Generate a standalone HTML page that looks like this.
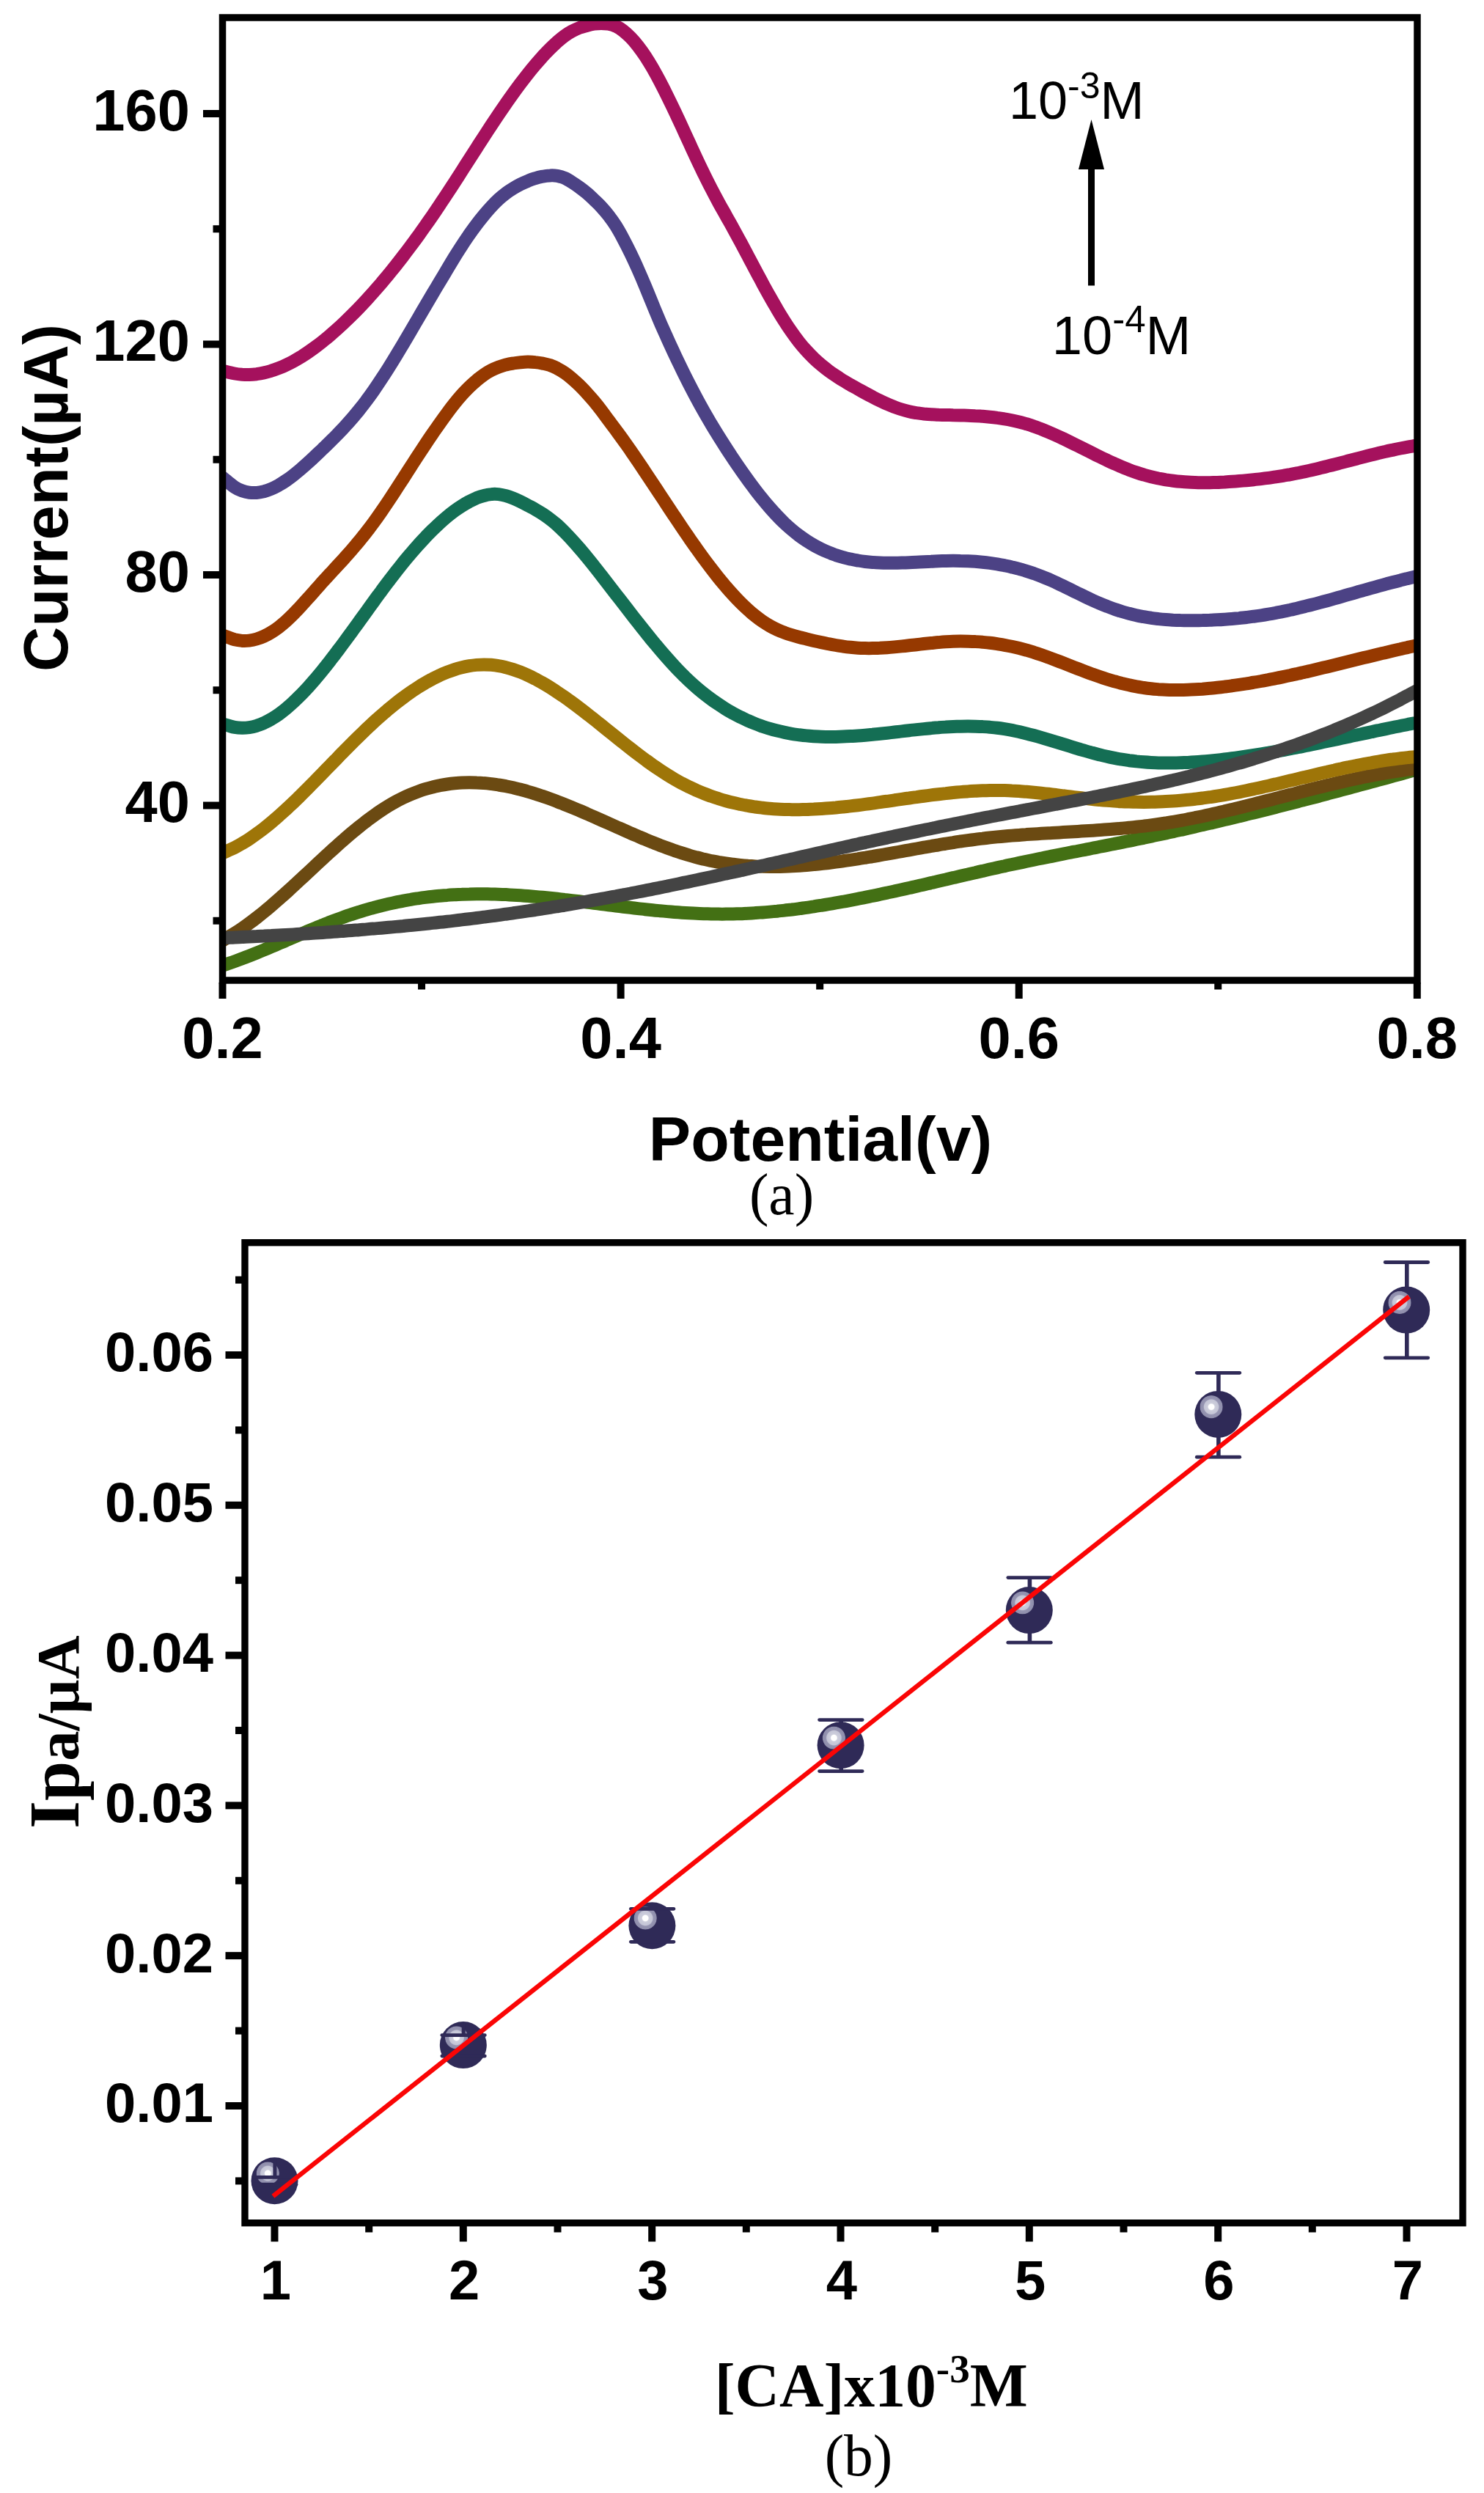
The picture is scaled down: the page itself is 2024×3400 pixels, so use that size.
<!DOCTYPE html>
<html><head><meta charset="utf-8"><title>Figure</title>
<style>
html,body{margin:0;padding:0;background:#fff;}
svg{display:block;}
.ab{font-family:"Liberation Sans",sans-serif;font-weight:bold;fill:#000;}
.ar{font-family:"Liberation Sans",sans-serif;fill:#000;}
.tb{font-family:"Liberation Serif",serif;font-weight:bold;fill:#000;}
.tr{font-family:"Liberation Serif",serif;fill:#000;}
</style></head><body>
<svg width="2024" height="3400" viewBox="0 0 2024 3400">
<rect width="2024" height="3400" fill="#fff"/>
<defs>
<clipPath id="ca"><rect x="303.5" y="24" width="1629.5" height="1313"/></clipPath>
<radialGradient id="hl" cx="0.5" cy="0.5" r="0.5">
<stop offset="0" stop-color="#ffffff"/><stop offset="0.24" stop-color="#ffffff"/>
<stop offset="0.32" stop-color="#cdcedc"/><stop offset="0.62" stop-color="#c4c5d6"/>
<stop offset="0.69" stop-color="#9695b2"/><stop offset="0.96" stop-color="#8f8eac"/><stop offset="1" stop-color="#5a577e"/>
</radialGradient>
</defs>

<g clip-path="url(#ca)" fill="none" stroke-width="18" stroke-linejoin="round">
<path d="M296.0 1319.4 C298.3 1318.6 306.0 1315.9 310.0 1314.6 C314.0 1313.2 316.7 1312.3 320.0 1311.1 C323.3 1309.9 326.7 1308.7 330.0 1307.4 C333.3 1306.1 336.7 1304.9 340.0 1303.6 C343.3 1302.3 346.7 1300.9 350.0 1299.6 C353.3 1298.2 356.7 1296.8 360.0 1295.5 C363.3 1294.1 366.7 1292.7 370.0 1291.3 C373.3 1289.9 376.7 1288.4 380.0 1287.0 C383.3 1285.6 386.7 1284.2 390.0 1282.7 C393.3 1281.3 396.7 1279.9 400.0 1278.4 C403.3 1277.0 406.7 1275.6 410.0 1274.1 C413.3 1272.7 416.7 1271.3 420.0 1269.9 C423.3 1268.5 426.7 1267.1 430.0 1265.7 C433.3 1264.3 436.7 1263.0 440.0 1261.7 C443.3 1260.3 446.7 1259.0 450.0 1257.7 C453.3 1256.4 456.7 1255.1 460.0 1253.9 C463.3 1252.7 466.7 1251.5 470.0 1250.3 C473.3 1249.1 476.7 1248.0 480.0 1246.9 C483.3 1245.8 486.7 1244.7 490.0 1243.7 C493.3 1242.6 496.7 1241.6 500.0 1240.6 C503.3 1239.7 506.7 1238.7 510.0 1237.8 C513.3 1236.9 516.7 1236.1 520.0 1235.2 C523.3 1234.4 526.7 1233.6 530.0 1232.8 C533.3 1232.1 536.7 1231.3 540.0 1230.6 C543.3 1229.9 546.7 1229.3 550.0 1228.6 C553.3 1228.0 556.7 1227.4 560.0 1226.9 C563.3 1226.3 566.7 1225.8 570.0 1225.3 C573.3 1224.8 576.7 1224.3 580.0 1223.9 C583.3 1223.5 586.7 1223.1 590.0 1222.7 C593.3 1222.3 596.7 1222.0 600.0 1221.7 C603.3 1221.4 606.7 1221.1 610.0 1220.9 C613.3 1220.6 616.7 1220.4 620.0 1220.2 C623.3 1220.1 626.7 1219.9 630.0 1219.8 C633.3 1219.6 636.7 1219.5 640.0 1219.5 C643.3 1219.4 646.7 1219.3 650.0 1219.3 C653.3 1219.3 656.7 1219.3 660.0 1219.3 C663.3 1219.3 666.7 1219.4 670.0 1219.4 C673.3 1219.5 676.7 1219.6 680.0 1219.7 C683.3 1219.8 686.7 1220.0 690.0 1220.1 C693.3 1220.3 696.7 1220.5 700.0 1220.7 C703.3 1220.9 706.7 1221.1 710.0 1221.3 C713.3 1221.5 716.7 1221.8 720.0 1222.0 C723.3 1222.3 726.7 1222.6 730.0 1222.9 C733.3 1223.2 736.7 1223.5 740.0 1223.8 C743.3 1224.1 746.7 1224.5 750.0 1224.8 C753.3 1225.1 756.7 1225.5 760.0 1225.8 C763.3 1226.2 766.7 1226.6 770.0 1227.0 C773.3 1227.3 776.7 1227.7 780.0 1228.1 C783.3 1228.5 786.7 1228.9 790.0 1229.3 C793.3 1229.7 796.7 1230.1 800.0 1230.5 C803.3 1230.9 806.7 1231.4 810.0 1231.8 C813.3 1232.2 816.7 1232.6 820.0 1233.0 C823.3 1233.4 826.7 1233.9 830.0 1234.3 C833.3 1234.7 836.7 1235.1 840.0 1235.5 C843.3 1235.9 846.7 1236.3 850.0 1236.7 C853.3 1237.1 856.7 1237.5 860.0 1237.9 C863.3 1238.3 866.7 1238.7 870.0 1239.1 C873.3 1239.5 876.7 1239.8 880.0 1240.2 C883.3 1240.5 886.7 1240.9 890.0 1241.2 C893.3 1241.6 896.7 1241.9 900.0 1242.2 C903.3 1242.5 906.7 1242.8 910.0 1243.1 C913.3 1243.4 916.7 1243.7 920.0 1244.0 C923.3 1244.2 926.7 1244.5 930.0 1244.7 C933.3 1244.9 936.7 1245.1 940.0 1245.3 C943.3 1245.5 946.7 1245.7 950.0 1245.8 C953.3 1246.0 956.7 1246.1 960.0 1246.2 C963.3 1246.3 966.7 1246.4 970.0 1246.5 C973.3 1246.6 976.7 1246.6 980.0 1246.6 C983.3 1246.7 986.7 1246.7 990.0 1246.6 C993.3 1246.6 996.7 1246.5 1000.0 1246.5 C1003.3 1246.4 1006.7 1246.3 1010.0 1246.2 C1013.3 1246.0 1016.7 1245.9 1020.0 1245.7 C1023.3 1245.6 1026.7 1245.4 1030.0 1245.1 C1033.3 1244.9 1036.7 1244.7 1040.0 1244.4 C1043.3 1244.2 1046.7 1243.9 1050.0 1243.6 C1053.3 1243.3 1056.7 1243.0 1060.0 1242.7 C1063.3 1242.3 1066.7 1242.0 1070.0 1241.6 C1073.3 1241.2 1076.7 1240.9 1080.0 1240.5 C1083.3 1240.0 1086.7 1239.6 1090.0 1239.2 C1093.3 1238.7 1096.7 1238.3 1100.0 1237.8 C1103.3 1237.3 1106.7 1236.9 1110.0 1236.4 C1113.3 1235.8 1116.7 1235.3 1120.0 1234.8 C1123.3 1234.3 1126.7 1233.7 1130.0 1233.2 C1133.3 1232.6 1136.7 1232.0 1140.0 1231.4 C1143.3 1230.9 1146.7 1230.3 1150.0 1229.7 C1153.3 1229.0 1156.7 1228.4 1160.0 1227.8 C1163.3 1227.2 1166.7 1226.5 1170.0 1225.9 C1173.3 1225.2 1176.7 1224.6 1180.0 1223.9 C1183.3 1223.2 1186.7 1222.5 1190.0 1221.8 C1193.3 1221.2 1196.7 1220.5 1200.0 1219.7 C1203.3 1219.0 1206.7 1218.3 1210.0 1217.6 C1213.3 1216.9 1216.7 1216.2 1220.0 1215.4 C1223.3 1214.7 1226.7 1214.0 1230.0 1213.2 C1233.3 1212.5 1236.7 1211.7 1240.0 1211.0 C1243.3 1210.2 1246.7 1209.5 1250.0 1208.7 C1253.3 1207.9 1256.7 1207.2 1260.0 1206.4 C1263.3 1205.6 1266.7 1204.9 1270.0 1204.1 C1273.3 1203.3 1276.7 1202.6 1280.0 1201.8 C1283.3 1201.0 1286.7 1200.2 1290.0 1199.5 C1293.3 1198.7 1296.7 1197.9 1300.0 1197.1 C1303.3 1196.3 1306.7 1195.6 1310.0 1194.8 C1313.3 1194.0 1316.7 1193.2 1320.0 1192.5 C1323.3 1191.7 1326.7 1190.9 1330.0 1190.2 C1333.3 1189.4 1336.7 1188.6 1340.0 1187.9 C1343.3 1187.1 1346.7 1186.4 1350.0 1185.6 C1353.3 1184.9 1356.7 1184.1 1360.0 1183.4 C1363.3 1182.6 1366.7 1181.9 1370.0 1181.2 C1373.3 1180.4 1376.7 1179.7 1380.0 1179.0 C1383.3 1178.3 1386.7 1177.6 1390.0 1176.9 C1393.3 1176.2 1396.7 1175.5 1400.0 1174.8 C1403.3 1174.1 1406.7 1173.4 1410.0 1172.7 C1413.3 1172.0 1416.7 1171.3 1420.0 1170.7 C1423.3 1170.0 1426.7 1169.3 1430.0 1168.6 C1433.3 1168.0 1436.7 1167.3 1440.0 1166.6 C1443.3 1166.0 1446.7 1165.3 1450.0 1164.7 C1453.3 1164.0 1456.7 1163.3 1460.0 1162.7 C1463.3 1162.0 1466.7 1161.4 1470.0 1160.7 C1473.3 1160.1 1476.7 1159.4 1480.0 1158.8 C1483.3 1158.1 1486.7 1157.5 1490.0 1156.8 C1493.3 1156.1 1496.7 1155.5 1500.0 1154.8 C1503.3 1154.2 1506.7 1153.5 1510.0 1152.9 C1513.3 1152.2 1516.7 1151.5 1520.0 1150.9 C1523.3 1150.2 1526.7 1149.5 1530.0 1148.9 C1533.3 1148.2 1536.7 1147.5 1540.0 1146.9 C1543.3 1146.2 1546.7 1145.5 1550.0 1144.8 C1553.3 1144.1 1556.7 1143.4 1560.0 1142.8 C1563.3 1142.1 1566.7 1141.4 1570.0 1140.7 C1573.3 1139.9 1576.7 1139.2 1580.0 1138.5 C1583.3 1137.8 1586.7 1137.1 1590.0 1136.4 C1593.3 1135.6 1596.7 1134.9 1600.0 1134.2 C1603.3 1133.4 1606.7 1132.7 1610.0 1132.0 C1613.3 1131.2 1616.7 1130.5 1620.0 1129.7 C1623.3 1129.0 1626.7 1128.2 1630.0 1127.4 C1633.3 1126.7 1636.7 1125.9 1640.0 1125.1 C1643.3 1124.4 1646.7 1123.6 1650.0 1122.8 C1653.3 1122.0 1656.7 1121.3 1660.0 1120.5 C1663.3 1119.7 1666.7 1118.9 1670.0 1118.1 C1673.3 1117.3 1676.7 1116.5 1680.0 1115.7 C1683.3 1114.9 1686.7 1114.1 1690.0 1113.3 C1693.3 1112.5 1696.7 1111.7 1700.0 1110.8 C1703.3 1110.0 1706.7 1109.2 1710.0 1108.4 C1713.3 1107.6 1716.7 1106.7 1720.0 1105.9 C1723.3 1105.1 1726.7 1104.2 1730.0 1103.4 C1733.3 1102.6 1736.7 1101.7 1740.0 1100.9 C1743.3 1100.0 1746.7 1099.2 1750.0 1098.3 C1753.3 1097.5 1756.7 1096.6 1760.0 1095.8 C1763.3 1094.9 1766.7 1094.1 1770.0 1093.2 C1773.3 1092.3 1776.7 1091.5 1780.0 1090.6 C1783.3 1089.7 1786.7 1088.9 1790.0 1088.0 C1793.3 1087.1 1796.7 1086.2 1800.0 1085.4 C1803.3 1084.5 1806.7 1083.6 1810.0 1082.7 C1813.3 1081.8 1816.7 1081.0 1820.0 1080.1 C1823.3 1079.2 1826.7 1078.3 1830.0 1077.4 C1833.3 1076.5 1836.7 1075.6 1840.0 1074.7 C1843.3 1073.8 1846.7 1072.9 1850.0 1072.0 C1853.3 1071.1 1856.7 1070.2 1860.0 1069.3 C1863.3 1068.4 1866.7 1067.5 1870.0 1066.6 C1873.3 1065.7 1876.7 1064.8 1880.0 1063.9 C1883.3 1063.0 1886.7 1062.1 1890.0 1061.2 C1893.3 1060.3 1896.7 1059.4 1900.0 1058.4 C1903.3 1057.5 1906.7 1056.6 1910.0 1055.7 C1913.3 1054.8 1916.7 1053.9 1920.0 1052.9 C1923.3 1052.0 1926.3 1051.1 1930.0 1050.1 C1933.7 1049.0 1940.0 1047.2 1942.0 1046.6" stroke="#437014"/>
<path d="M296.0 1287.3 C298.3 1285.9 306.0 1281.3 310.0 1278.9 C314.0 1276.5 316.7 1275.0 320.0 1272.9 C323.3 1270.8 326.7 1268.6 330.0 1266.3 C333.3 1264.1 336.7 1261.7 340.0 1259.2 C343.3 1256.8 346.7 1254.2 350.0 1251.6 C353.3 1249.0 356.7 1246.3 360.0 1243.6 C363.3 1240.9 366.7 1238.1 370.0 1235.2 C373.3 1232.4 376.7 1229.5 380.0 1226.6 C383.3 1223.6 386.7 1220.7 390.0 1217.6 C393.3 1214.6 396.7 1211.6 400.0 1208.5 C403.3 1205.5 406.7 1202.4 410.0 1199.3 C413.3 1196.2 416.7 1193.1 420.0 1190.0 C423.3 1186.9 426.7 1183.8 430.0 1180.6 C433.3 1177.5 436.7 1174.4 440.0 1171.4 C443.3 1168.3 446.7 1165.2 450.0 1162.2 C453.3 1159.1 456.7 1156.1 460.0 1153.1 C463.3 1150.1 466.7 1147.2 470.0 1144.3 C473.3 1141.4 476.7 1138.5 480.0 1135.7 C483.3 1132.9 486.7 1130.2 490.0 1127.5 C493.3 1124.8 496.7 1122.2 500.0 1119.6 C503.3 1117.1 506.7 1114.6 510.0 1112.2 C513.3 1109.8 516.7 1107.5 520.0 1105.3 C523.3 1103.1 526.7 1100.9 530.0 1098.9 C533.3 1096.9 536.7 1094.9 540.0 1093.1 C543.3 1091.3 546.7 1089.6 550.0 1088.0 C553.3 1086.4 556.7 1084.9 560.0 1083.5 C563.3 1082.1 566.7 1080.8 570.0 1079.6 C573.3 1078.4 576.7 1077.2 580.0 1076.2 C583.3 1075.2 586.7 1074.3 590.0 1073.5 C593.3 1072.6 596.7 1071.9 600.0 1071.2 C603.3 1070.6 606.7 1070.0 610.0 1069.5 C613.3 1069.0 616.7 1068.6 620.0 1068.3 C623.3 1068.0 626.7 1067.7 630.0 1067.5 C633.3 1067.4 636.7 1067.3 640.0 1067.3 C643.3 1067.3 646.7 1067.3 650.0 1067.5 C653.3 1067.6 656.7 1067.8 660.0 1068.1 C663.3 1068.3 666.7 1068.7 670.0 1069.1 C673.3 1069.5 676.7 1069.9 680.0 1070.5 C683.3 1071.0 686.7 1071.6 690.0 1072.2 C693.3 1072.9 696.7 1073.6 700.0 1074.3 C703.3 1075.1 706.7 1075.9 710.0 1076.8 C713.3 1077.7 716.7 1078.6 720.0 1079.6 C723.3 1080.5 726.7 1081.5 730.0 1082.6 C733.3 1083.6 736.7 1084.8 740.0 1085.9 C743.3 1087.0 746.7 1088.2 750.0 1089.4 C753.3 1090.6 756.7 1091.9 760.0 1093.2 C763.3 1094.4 766.7 1095.7 770.0 1097.1 C773.3 1098.4 776.7 1099.8 780.0 1101.1 C783.3 1102.5 786.7 1103.9 790.0 1105.3 C793.3 1106.8 796.7 1108.2 800.0 1109.6 C803.3 1111.1 806.7 1112.6 810.0 1114.0 C813.3 1115.5 816.7 1117.0 820.0 1118.5 C823.3 1119.9 826.7 1121.4 830.0 1122.9 C833.3 1124.4 836.7 1125.9 840.0 1127.4 C843.3 1128.9 846.7 1130.3 850.0 1131.8 C853.3 1133.3 856.7 1134.8 860.0 1136.2 C863.3 1137.7 866.7 1139.1 870.0 1140.5 C873.3 1141.9 876.7 1143.4 880.0 1144.7 C883.3 1146.1 886.7 1147.5 890.0 1148.8 C893.3 1150.2 896.7 1151.5 900.0 1152.8 C903.3 1154.0 906.7 1155.3 910.0 1156.5 C913.3 1157.7 916.7 1158.9 920.0 1160.1 C923.3 1161.2 926.7 1162.3 930.0 1163.4 C933.3 1164.5 936.7 1165.5 940.0 1166.5 C943.3 1167.5 946.7 1168.4 950.0 1169.3 C953.3 1170.2 956.7 1171.0 960.0 1171.8 C963.3 1172.6 966.7 1173.3 970.0 1174.0 C973.3 1174.6 976.7 1175.3 980.0 1175.9 C983.3 1176.4 986.7 1177.0 990.0 1177.5 C993.3 1178.0 996.7 1178.4 1000.0 1178.8 C1003.3 1179.2 1006.7 1179.6 1010.0 1179.9 C1013.3 1180.2 1016.7 1180.5 1020.0 1180.8 C1023.3 1181.0 1026.7 1181.2 1030.0 1181.4 C1033.3 1181.6 1036.7 1181.7 1040.0 1181.8 C1043.3 1181.9 1046.7 1181.9 1050.0 1181.9 C1053.3 1182.0 1056.7 1182.0 1060.0 1181.9 C1063.3 1181.9 1066.7 1181.8 1070.0 1181.7 C1073.3 1181.6 1076.7 1181.5 1080.0 1181.3 C1083.3 1181.1 1086.7 1180.9 1090.0 1180.7 C1093.3 1180.5 1096.7 1180.3 1100.0 1180.0 C1103.3 1179.7 1106.7 1179.4 1110.0 1179.1 C1113.3 1178.8 1116.7 1178.5 1120.0 1178.1 C1123.3 1177.7 1126.7 1177.4 1130.0 1177.0 C1133.3 1176.6 1136.7 1176.1 1140.0 1175.7 C1143.3 1175.3 1146.7 1174.8 1150.0 1174.3 C1153.3 1173.9 1156.7 1173.4 1160.0 1172.9 C1163.3 1172.4 1166.7 1171.9 1170.0 1171.4 C1173.3 1170.8 1176.7 1170.3 1180.0 1169.8 C1183.3 1169.2 1186.7 1168.7 1190.0 1168.1 C1193.3 1167.5 1196.7 1167.0 1200.0 1166.4 C1203.3 1165.8 1206.7 1165.2 1210.0 1164.6 C1213.3 1164.1 1216.7 1163.5 1220.0 1162.9 C1223.3 1162.3 1226.7 1161.7 1230.0 1161.1 C1233.3 1160.5 1236.7 1159.9 1240.0 1159.3 C1243.3 1158.7 1246.7 1158.1 1250.0 1157.5 C1253.3 1156.9 1256.7 1156.3 1260.0 1155.7 C1263.3 1155.1 1266.7 1154.6 1270.0 1154.0 C1273.3 1153.4 1276.7 1152.9 1280.0 1152.3 C1283.3 1151.7 1286.7 1151.2 1290.0 1150.6 C1293.3 1150.1 1296.7 1149.6 1300.0 1149.1 C1303.3 1148.5 1306.7 1148.0 1310.0 1147.5 C1313.3 1147.1 1316.7 1146.6 1320.0 1146.1 C1323.3 1145.7 1326.7 1145.2 1330.0 1144.8 C1333.3 1144.4 1336.7 1143.9 1340.0 1143.6 C1343.3 1143.2 1346.7 1142.8 1350.0 1142.4 C1353.3 1142.1 1356.7 1141.7 1360.0 1141.4 C1363.3 1141.1 1366.7 1140.8 1370.0 1140.5 C1373.3 1140.2 1376.7 1139.9 1380.0 1139.6 C1383.3 1139.4 1386.7 1139.1 1390.0 1138.9 C1393.3 1138.6 1396.7 1138.4 1400.0 1138.1 C1403.3 1137.9 1406.7 1137.7 1410.0 1137.5 C1413.3 1137.3 1416.7 1137.0 1420.0 1136.8 C1423.3 1136.6 1426.7 1136.4 1430.0 1136.2 C1433.3 1136.0 1436.7 1135.9 1440.0 1135.7 C1443.3 1135.5 1446.7 1135.3 1450.0 1135.1 C1453.3 1134.9 1456.7 1134.7 1460.0 1134.5 C1463.3 1134.3 1466.7 1134.1 1470.0 1133.9 C1473.3 1133.7 1476.7 1133.5 1480.0 1133.3 C1483.3 1133.1 1486.7 1132.9 1490.0 1132.7 C1493.3 1132.5 1496.7 1132.3 1500.0 1132.0 C1503.3 1131.8 1506.7 1131.6 1510.0 1131.3 C1513.3 1131.1 1516.7 1130.8 1520.0 1130.5 C1523.3 1130.3 1526.7 1130.0 1530.0 1129.7 C1533.3 1129.4 1536.7 1129.1 1540.0 1128.7 C1543.3 1128.4 1546.7 1128.1 1550.0 1127.7 C1553.3 1127.3 1556.7 1127.0 1560.0 1126.6 C1563.3 1126.2 1566.7 1125.8 1570.0 1125.3 C1573.3 1124.9 1576.7 1124.4 1580.0 1124.0 C1583.3 1123.5 1586.7 1123.0 1590.0 1122.5 C1593.3 1121.9 1596.7 1121.4 1600.0 1120.8 C1603.3 1120.3 1606.7 1119.7 1610.0 1119.1 C1613.3 1118.5 1616.7 1117.9 1620.0 1117.2 C1623.3 1116.6 1626.7 1115.9 1630.0 1115.2 C1633.3 1114.6 1636.7 1113.9 1640.0 1113.2 C1643.3 1112.5 1646.7 1111.7 1650.0 1111.0 C1653.3 1110.3 1656.7 1109.5 1660.0 1108.8 C1663.3 1108.0 1666.7 1107.2 1670.0 1106.4 C1673.3 1105.7 1676.7 1104.9 1680.0 1104.1 C1683.3 1103.3 1686.7 1102.5 1690.0 1101.6 C1693.3 1100.8 1696.7 1100.0 1700.0 1099.1 C1703.3 1098.3 1706.7 1097.5 1710.0 1096.6 C1713.3 1095.8 1716.7 1094.9 1720.0 1094.1 C1723.3 1093.2 1726.7 1092.4 1730.0 1091.5 C1733.3 1090.6 1736.7 1089.8 1740.0 1088.9 C1743.3 1088.0 1746.7 1087.2 1750.0 1086.3 C1753.3 1085.4 1756.7 1084.6 1760.0 1083.7 C1763.3 1082.9 1766.7 1082.0 1770.0 1081.1 C1773.3 1080.3 1776.7 1079.4 1780.0 1078.6 C1783.3 1077.7 1786.7 1076.9 1790.0 1076.0 C1793.3 1075.2 1796.7 1074.4 1800.0 1073.6 C1803.3 1072.7 1806.7 1071.9 1810.0 1071.1 C1813.3 1070.3 1816.7 1069.5 1820.0 1068.7 C1823.3 1067.9 1826.7 1067.1 1830.0 1066.4 C1833.3 1065.6 1836.7 1064.9 1840.0 1064.1 C1843.3 1063.4 1846.7 1062.7 1850.0 1061.9 C1853.3 1061.2 1856.7 1060.5 1860.0 1059.8 C1863.3 1059.2 1866.7 1058.5 1870.0 1057.9 C1873.3 1057.2 1876.7 1056.6 1880.0 1056.0 C1883.3 1055.4 1886.7 1054.8 1890.0 1054.2 C1893.3 1053.6 1896.7 1053.1 1900.0 1052.5 C1903.3 1052.0 1906.7 1051.5 1910.0 1051.0 C1913.3 1050.5 1916.7 1050.1 1920.0 1049.6 C1923.3 1049.2 1926.3 1048.9 1930.0 1048.4 C1933.7 1048.0 1940.0 1047.2 1942.0 1046.9" stroke="#6b4a12"/>
<path d="M296.0 1167.1 C298.3 1166.0 306.0 1162.4 310.0 1160.6 C314.0 1158.7 316.7 1157.6 320.0 1155.9 C323.3 1154.2 326.7 1152.4 330.0 1150.4 C333.3 1148.5 336.7 1146.4 340.0 1144.2 C343.3 1142.0 346.7 1139.7 350.0 1137.2 C353.3 1134.8 356.7 1132.3 360.0 1129.7 C363.3 1127.1 366.7 1124.4 370.0 1121.6 C373.3 1118.8 376.7 1115.9 380.0 1113.0 C383.3 1110.1 386.7 1107.0 390.0 1104.0 C393.3 1100.9 396.7 1097.7 400.0 1094.6 C403.3 1091.4 406.7 1088.1 410.0 1084.8 C413.3 1081.6 416.7 1078.2 420.0 1074.9 C423.3 1071.5 426.7 1068.1 430.0 1064.7 C433.3 1061.4 436.7 1057.9 440.0 1054.5 C443.3 1051.1 446.7 1047.6 450.0 1044.2 C453.3 1040.7 456.7 1037.3 460.0 1033.9 C463.3 1030.5 466.7 1027.0 470.0 1023.7 C473.3 1020.3 476.7 1016.9 480.0 1013.6 C483.3 1010.2 486.7 1006.9 490.0 1003.7 C493.3 1000.4 496.7 997.2 500.0 994.0 C503.3 990.9 506.7 987.8 510.0 984.7 C513.3 981.7 516.7 978.7 520.0 975.8 C523.3 972.8 526.7 970.0 530.0 967.2 C533.3 964.4 536.7 961.7 540.0 959.0 C543.3 956.4 546.7 953.8 550.0 951.4 C553.3 948.9 556.7 946.5 560.0 944.2 C563.3 941.8 566.7 939.6 570.0 937.5 C573.3 935.3 576.7 933.3 580.0 931.4 C583.3 929.4 586.7 927.6 590.0 925.8 C593.3 924.1 596.7 922.5 600.0 920.9 C603.3 919.4 606.7 918.0 610.0 916.7 C613.3 915.4 616.7 914.2 620.0 913.1 C623.3 912.0 626.7 911.1 630.0 910.3 C633.3 909.5 636.7 908.8 640.0 908.2 C643.3 907.6 646.7 907.2 650.0 906.9 C653.3 906.6 656.7 906.4 660.0 906.4 C663.3 906.4 666.7 906.5 670.0 906.8 C673.3 907.1 676.7 907.5 680.0 908.1 C683.3 908.6 686.7 909.3 690.0 910.2 C693.3 911.0 696.7 912.0 700.0 913.1 C703.3 914.2 706.7 915.4 710.0 916.7 C713.3 918.0 716.7 919.5 720.0 921.0 C723.3 922.5 726.7 924.2 730.0 925.9 C733.3 927.7 736.7 929.5 740.0 931.4 C743.3 933.3 746.7 935.3 750.0 937.4 C753.3 939.5 756.7 941.7 760.0 943.9 C763.3 946.1 766.7 948.4 770.0 950.7 C773.3 953.1 776.7 955.5 780.0 957.9 C783.3 960.3 786.7 962.8 790.0 965.4 C793.3 967.9 796.7 970.5 800.0 973.1 C803.3 975.7 806.7 978.3 810.0 980.9 C813.3 983.6 816.7 986.3 820.0 988.9 C823.3 991.6 826.7 994.3 830.0 997.0 C833.3 999.6 836.7 1002.3 840.0 1005.0 C843.3 1007.7 846.7 1010.4 850.0 1013.0 C853.3 1015.6 856.7 1018.3 860.0 1020.9 C863.3 1023.5 866.7 1026.1 870.0 1028.6 C873.3 1031.1 876.7 1033.6 880.0 1036.1 C883.3 1038.5 886.7 1041.0 890.0 1043.3 C893.3 1045.6 896.7 1047.9 900.0 1050.2 C903.3 1052.4 906.7 1054.6 910.0 1056.7 C913.3 1058.8 916.7 1060.8 920.0 1062.7 C923.3 1064.6 926.7 1066.5 930.0 1068.3 C933.3 1070.0 936.7 1071.7 940.0 1073.3 C943.3 1075.0 946.7 1076.5 950.0 1078.0 C953.3 1079.4 956.7 1080.8 960.0 1082.1 C963.3 1083.5 966.7 1084.7 970.0 1085.9 C973.3 1087.1 976.7 1088.2 980.0 1089.2 C983.3 1090.3 986.7 1091.3 990.0 1092.2 C993.3 1093.1 996.7 1094.0 1000.0 1094.8 C1003.3 1095.6 1006.7 1096.3 1010.0 1097.0 C1013.3 1097.7 1016.7 1098.4 1020.0 1098.9 C1023.3 1099.5 1026.7 1100.0 1030.0 1100.5 C1033.3 1101.0 1036.7 1101.4 1040.0 1101.8 C1043.3 1102.2 1046.7 1102.5 1050.0 1102.8 C1053.3 1103.0 1056.7 1103.3 1060.0 1103.5 C1063.3 1103.7 1066.7 1103.8 1070.0 1103.9 C1073.3 1104.1 1076.7 1104.1 1080.0 1104.2 C1083.3 1104.2 1086.7 1104.2 1090.0 1104.2 C1093.3 1104.1 1096.7 1104.1 1100.0 1104.0 C1103.3 1103.9 1106.7 1103.7 1110.0 1103.6 C1113.3 1103.4 1116.7 1103.2 1120.0 1103.0 C1123.3 1102.8 1126.7 1102.6 1130.0 1102.3 C1133.3 1102.1 1136.7 1101.8 1140.0 1101.5 C1143.3 1101.1 1146.7 1100.8 1150.0 1100.5 C1153.3 1100.1 1156.7 1099.8 1160.0 1099.4 C1163.3 1099.0 1166.7 1098.6 1170.0 1098.2 C1173.3 1097.8 1176.7 1097.3 1180.0 1096.9 C1183.3 1096.5 1186.7 1096.0 1190.0 1095.6 C1193.3 1095.1 1196.7 1094.7 1200.0 1094.2 C1203.3 1093.7 1206.7 1093.2 1210.0 1092.8 C1213.3 1092.3 1216.7 1091.8 1220.0 1091.3 C1223.3 1090.9 1226.7 1090.4 1230.0 1089.9 C1233.3 1089.4 1236.7 1088.9 1240.0 1088.5 C1243.3 1088.0 1246.7 1087.5 1250.0 1087.1 C1253.3 1086.6 1256.7 1086.1 1260.0 1085.7 C1263.3 1085.3 1266.7 1084.8 1270.0 1084.4 C1273.3 1084.0 1276.7 1083.6 1280.0 1083.2 C1283.3 1082.8 1286.7 1082.4 1290.0 1082.1 C1293.3 1081.7 1296.7 1081.3 1300.0 1081.0 C1303.3 1080.7 1306.7 1080.4 1310.0 1080.1 C1313.3 1079.8 1316.7 1079.6 1320.0 1079.4 C1323.3 1079.1 1326.7 1078.9 1330.0 1078.7 C1333.3 1078.6 1336.7 1078.4 1340.0 1078.3 C1343.3 1078.2 1346.7 1078.1 1350.0 1078.0 C1353.3 1078.0 1356.7 1077.9 1360.0 1078.0 C1363.3 1078.0 1366.7 1078.0 1370.0 1078.1 C1373.3 1078.2 1376.7 1078.3 1380.0 1078.5 C1383.3 1078.6 1386.7 1078.8 1390.0 1079.0 C1393.3 1079.3 1396.7 1079.5 1400.0 1079.8 C1403.3 1080.1 1406.7 1080.4 1410.0 1080.7 C1413.3 1081.0 1416.7 1081.4 1420.0 1081.7 C1423.3 1082.1 1426.7 1082.5 1430.0 1082.8 C1433.3 1083.2 1436.7 1083.6 1440.0 1084.0 C1443.3 1084.4 1446.7 1084.8 1450.0 1085.3 C1453.3 1085.7 1456.7 1086.1 1460.0 1086.5 C1463.3 1086.9 1466.7 1087.3 1470.0 1087.7 C1473.3 1088.1 1476.7 1088.5 1480.0 1088.9 C1483.3 1089.3 1486.7 1089.7 1490.0 1090.0 C1493.3 1090.4 1496.7 1090.7 1500.0 1091.0 C1503.3 1091.3 1506.7 1091.6 1510.0 1091.9 C1513.3 1092.2 1516.7 1092.4 1520.0 1092.6 C1523.3 1092.9 1526.7 1093.1 1530.0 1093.2 C1533.3 1093.4 1536.7 1093.5 1540.0 1093.6 C1543.3 1093.7 1546.7 1093.8 1550.0 1093.8 C1553.3 1093.9 1556.7 1093.9 1560.0 1093.9 C1563.3 1093.9 1566.7 1093.9 1570.0 1093.8 C1573.3 1093.7 1576.7 1093.6 1580.0 1093.5 C1583.3 1093.4 1586.7 1093.3 1590.0 1093.1 C1593.3 1092.9 1596.7 1092.7 1600.0 1092.5 C1603.3 1092.3 1606.7 1092.0 1610.0 1091.7 C1613.3 1091.5 1616.7 1091.2 1620.0 1090.8 C1623.3 1090.5 1626.7 1090.2 1630.0 1089.8 C1633.3 1089.4 1636.7 1089.0 1640.0 1088.5 C1643.3 1088.1 1646.7 1087.7 1650.0 1087.2 C1653.3 1086.7 1656.7 1086.2 1660.0 1085.6 C1663.3 1085.1 1666.7 1084.5 1670.0 1084.0 C1673.3 1083.4 1676.7 1082.8 1680.0 1082.2 C1683.3 1081.6 1686.7 1080.9 1690.0 1080.3 C1693.3 1079.6 1696.7 1078.9 1700.0 1078.2 C1703.3 1077.5 1706.7 1076.8 1710.0 1076.1 C1713.3 1075.4 1716.7 1074.7 1720.0 1073.9 C1723.3 1073.2 1726.7 1072.4 1730.0 1071.7 C1733.3 1070.9 1736.7 1070.1 1740.0 1069.4 C1743.3 1068.6 1746.7 1067.8 1750.0 1067.0 C1753.3 1066.2 1756.7 1065.4 1760.0 1064.6 C1763.3 1063.8 1766.7 1063.0 1770.0 1062.2 C1773.3 1061.4 1776.7 1060.6 1780.0 1059.9 C1783.3 1059.1 1786.7 1058.3 1790.0 1057.5 C1793.3 1056.7 1796.7 1055.9 1800.0 1055.1 C1803.3 1054.3 1806.7 1053.5 1810.0 1052.8 C1813.3 1052.0 1816.7 1051.2 1820.0 1050.5 C1823.3 1049.7 1826.7 1049.0 1830.0 1048.3 C1833.3 1047.5 1836.7 1046.8 1840.0 1046.1 C1843.3 1045.4 1846.7 1044.7 1850.0 1044.1 C1853.3 1043.4 1856.7 1042.7 1860.0 1042.1 C1863.3 1041.5 1866.7 1040.8 1870.0 1040.3 C1873.3 1039.7 1876.7 1039.1 1880.0 1038.5 C1883.3 1038.0 1886.7 1037.4 1890.0 1036.9 C1893.3 1036.4 1896.7 1035.9 1900.0 1035.5 C1903.3 1035.0 1906.7 1034.6 1910.0 1034.2 C1913.3 1033.8 1916.7 1033.4 1920.0 1033.1 C1923.3 1032.8 1926.3 1032.5 1930.0 1032.2 C1933.7 1031.9 1940.0 1031.3 1942.0 1031.1" stroke="#9e7508"/>
<path d="M296.0 985.3 C298.3 985.9 306.0 988.0 310.0 989.1 C314.0 990.2 316.7 991.3 320.0 991.9 C323.3 992.5 326.7 992.8 330.0 992.8 C333.3 992.9 336.7 992.6 340.0 992.1 C343.3 991.6 346.7 990.8 350.0 989.8 C353.3 988.7 356.7 987.5 360.0 986.0 C363.3 984.4 366.7 982.7 370.0 980.7 C373.3 978.8 376.7 976.6 380.0 974.3 C383.3 971.9 386.7 969.3 390.0 966.6 C393.3 963.8 396.7 960.9 400.0 957.8 C403.3 954.7 406.7 951.5 410.0 948.1 C413.3 944.7 416.7 941.2 420.0 937.5 C423.3 933.8 426.7 930.0 430.0 926.1 C433.3 922.2 436.7 918.2 440.0 914.1 C443.3 910.0 446.7 905.8 450.0 901.5 C453.3 897.2 456.7 892.9 460.0 888.4 C463.3 884.0 466.7 879.5 470.0 875.0 C473.3 870.5 476.7 865.9 480.0 861.4 C483.3 856.8 486.7 852.2 490.0 847.5 C493.3 842.9 496.7 838.3 500.0 833.7 C503.3 829.1 506.7 824.4 510.0 819.9 C513.3 815.3 516.7 810.7 520.0 806.2 C523.3 801.7 526.7 797.2 530.0 792.8 C533.3 788.4 536.7 784.1 540.0 779.8 C543.3 775.6 546.7 771.4 550.0 767.2 C553.3 763.1 556.7 759.1 560.0 755.2 C563.3 751.3 566.7 747.4 570.0 743.7 C573.3 740.0 576.7 736.4 580.0 732.9 C583.3 729.4 586.7 726.0 590.0 722.7 C593.3 719.5 596.7 716.3 600.0 713.2 C603.3 710.2 606.7 707.3 610.0 704.5 C613.3 701.8 616.7 699.2 620.0 696.7 C623.3 694.3 626.7 692.0 630.0 689.9 C633.3 687.8 636.7 685.8 640.0 684.0 C643.3 682.3 646.7 680.6 650.0 679.2 C653.3 677.9 656.7 676.8 660.0 676.0 C663.3 675.1 666.7 674.4 670.0 674.1 C673.3 673.7 676.7 673.8 680.0 674.1 C683.3 674.5 686.7 675.2 690.0 676.1 C693.3 677.1 696.7 678.4 700.0 679.7 C703.3 681.0 706.7 682.5 710.0 684.1 C713.3 685.7 716.7 687.5 720.0 689.3 C723.3 691.1 726.7 692.8 730.0 694.7 C733.3 696.6 736.7 698.6 740.0 700.8 C743.3 703.0 746.7 705.3 750.0 707.8 C753.3 710.3 756.7 713.0 760.0 716.0 C763.3 719.0 766.7 722.4 770.0 725.7 C773.3 729.1 776.7 732.6 780.0 736.3 C783.3 739.9 786.7 743.7 790.0 747.5 C793.3 751.4 796.7 755.3 800.0 759.4 C803.3 763.4 806.7 767.6 810.0 771.8 C813.3 776.0 816.7 780.3 820.0 784.6 C823.3 788.9 826.7 793.2 830.0 797.5 C833.3 801.8 836.7 806.1 840.0 810.4 C843.3 814.7 846.7 819.0 850.0 823.3 C853.3 827.6 856.7 832.0 860.0 836.2 C863.3 840.5 866.7 844.8 870.0 849.1 C873.3 853.3 876.7 857.5 880.0 861.7 C883.3 865.9 886.7 870.0 890.0 874.1 C893.3 878.1 896.7 882.1 900.0 886.1 C903.3 890.0 906.7 893.9 910.0 897.6 C913.3 901.4 916.7 905.1 920.0 908.6 C923.3 912.2 926.7 915.7 930.0 919.0 C933.3 922.4 936.7 925.6 940.0 928.7 C943.3 931.8 946.7 934.8 950.0 937.7 C953.3 940.6 956.7 943.3 960.0 946.0 C963.3 948.6 966.7 951.2 970.0 953.6 C973.3 956.1 976.7 958.4 980.0 960.6 C983.3 962.9 986.7 965.0 990.0 967.1 C993.3 969.1 996.7 971.0 1000.0 972.9 C1003.3 974.7 1006.7 976.5 1010.0 978.1 C1013.3 979.8 1016.7 981.3 1020.0 982.8 C1023.3 984.3 1026.7 985.7 1030.0 987.0 C1033.3 988.3 1036.7 989.5 1040.0 990.7 C1043.3 991.8 1046.7 992.9 1050.0 993.9 C1053.3 994.9 1056.7 995.8 1060.0 996.6 C1063.3 997.4 1066.7 998.2 1070.0 998.9 C1073.3 999.6 1076.7 1000.2 1080.0 1000.8 C1083.3 1001.4 1086.7 1001.8 1090.0 1002.3 C1093.3 1002.7 1096.7 1003.1 1100.0 1003.4 C1103.3 1003.8 1106.7 1004.0 1110.0 1004.2 C1113.3 1004.4 1116.7 1004.6 1120.0 1004.7 C1123.3 1004.8 1126.7 1004.9 1130.0 1004.9 C1133.3 1005.0 1136.7 1004.9 1140.0 1004.9 C1143.3 1004.8 1146.7 1004.7 1150.0 1004.6 C1153.3 1004.5 1156.7 1004.3 1160.0 1004.1 C1163.3 1004.0 1166.7 1003.7 1170.0 1003.5 C1173.3 1003.3 1176.7 1003.0 1180.0 1002.7 C1183.3 1002.4 1186.7 1002.1 1190.0 1001.8 C1193.3 1001.4 1196.7 1001.1 1200.0 1000.7 C1203.3 1000.4 1206.7 1000.0 1210.0 999.7 C1213.3 999.3 1216.7 998.9 1220.0 998.5 C1223.3 998.1 1226.7 997.8 1230.0 997.4 C1233.3 997.0 1236.7 996.6 1240.0 996.2 C1243.3 995.8 1246.7 995.5 1250.0 995.1 C1253.3 994.8 1256.7 994.4 1260.0 994.1 C1263.3 993.7 1266.7 993.4 1270.0 993.1 C1273.3 992.8 1276.7 992.5 1280.0 992.3 C1283.3 992.0 1286.7 991.8 1290.0 991.6 C1293.3 991.4 1296.7 991.2 1300.0 991.0 C1303.3 990.9 1306.7 990.8 1310.0 990.7 C1313.3 990.6 1316.7 990.6 1320.0 990.6 C1323.3 990.6 1326.7 990.6 1330.0 990.7 C1333.3 990.8 1336.7 990.9 1340.0 991.1 C1343.3 991.3 1346.7 991.5 1350.0 991.8 C1353.3 992.1 1356.7 992.4 1360.0 992.8 C1363.3 993.2 1366.7 993.7 1370.0 994.2 C1373.3 994.7 1376.7 995.3 1380.0 995.9 C1383.3 996.6 1386.7 997.3 1390.0 998.0 C1393.3 998.8 1396.7 999.6 1400.0 1000.4 C1403.3 1001.2 1406.7 1002.1 1410.0 1003.0 C1413.3 1003.9 1416.7 1004.9 1420.0 1005.8 C1423.3 1006.8 1426.7 1007.8 1430.0 1008.8 C1433.3 1009.8 1436.7 1010.8 1440.0 1011.8 C1443.3 1012.8 1446.7 1013.9 1450.0 1014.9 C1453.3 1015.9 1456.7 1017.0 1460.0 1018.0 C1463.3 1019.0 1466.7 1020.1 1470.0 1021.1 C1473.3 1022.1 1476.7 1023.0 1480.0 1024.0 C1483.3 1025.0 1486.7 1025.9 1490.0 1026.8 C1493.3 1027.7 1496.7 1028.6 1500.0 1029.4 C1503.3 1030.3 1506.7 1031.1 1510.0 1031.8 C1513.3 1032.6 1516.7 1033.3 1520.0 1033.9 C1523.3 1034.6 1526.7 1035.2 1530.0 1035.7 C1533.3 1036.2 1536.7 1036.7 1540.0 1037.2 C1543.3 1037.6 1546.7 1038.0 1550.0 1038.4 C1553.3 1038.7 1556.7 1039.0 1560.0 1039.3 C1563.3 1039.6 1566.7 1039.8 1570.0 1039.9 C1573.3 1040.1 1576.7 1040.3 1580.0 1040.4 C1583.3 1040.5 1586.7 1040.5 1590.0 1040.5 C1593.3 1040.6 1596.7 1040.6 1600.0 1040.5 C1603.3 1040.5 1606.7 1040.4 1610.0 1040.3 C1613.3 1040.2 1616.7 1040.0 1620.0 1039.9 C1623.3 1039.7 1626.7 1039.5 1630.0 1039.3 C1633.3 1039.1 1636.7 1038.8 1640.0 1038.5 C1643.3 1038.3 1646.7 1038.0 1650.0 1037.7 C1653.3 1037.4 1656.7 1037.0 1660.0 1036.7 C1663.3 1036.3 1666.7 1035.9 1670.0 1035.5 C1673.3 1035.1 1676.7 1034.7 1680.0 1034.3 C1683.3 1033.9 1686.7 1033.4 1690.0 1033.0 C1693.3 1032.5 1696.7 1032.0 1700.0 1031.5 C1703.3 1031.0 1706.7 1030.5 1710.0 1030.0 C1713.3 1029.5 1716.7 1028.9 1720.0 1028.4 C1723.3 1027.8 1726.7 1027.2 1730.0 1026.7 C1733.3 1026.1 1736.7 1025.5 1740.0 1024.9 C1743.3 1024.3 1746.7 1023.7 1750.0 1023.1 C1753.3 1022.4 1756.7 1021.8 1760.0 1021.2 C1763.3 1020.5 1766.7 1019.9 1770.0 1019.2 C1773.3 1018.6 1776.7 1017.9 1780.0 1017.2 C1783.3 1016.6 1786.7 1015.9 1790.0 1015.2 C1793.3 1014.5 1796.7 1013.8 1800.0 1013.1 C1803.3 1012.4 1806.7 1011.7 1810.0 1011.0 C1813.3 1010.3 1816.7 1009.6 1820.0 1008.9 C1823.3 1008.2 1826.7 1007.5 1830.0 1006.8 C1833.3 1006.1 1836.7 1005.4 1840.0 1004.7 C1843.3 1003.9 1846.7 1003.2 1850.0 1002.5 C1853.3 1001.8 1856.7 1001.1 1860.0 1000.4 C1863.3 999.7 1866.7 999.0 1870.0 998.3 C1873.3 997.6 1876.7 996.8 1880.0 996.2 C1883.3 995.5 1886.7 994.8 1890.0 994.1 C1893.3 993.4 1896.7 992.7 1900.0 992.0 C1903.3 991.3 1906.7 990.7 1910.0 990.0 C1913.3 989.3 1916.7 988.7 1920.0 988.0 C1923.3 987.4 1926.3 986.8 1930.0 986.2 C1933.7 985.5 1940.0 984.3 1942.0 983.9" stroke="#146e54"/>
<path d="M296.0 863.8 C298.3 864.6 306.0 867.3 310.0 868.7 C314.0 870.2 316.7 871.4 320.0 872.3 C323.3 873.1 326.7 873.6 330.0 873.9 C333.3 874.1 336.7 874.0 340.0 873.6 C343.3 873.2 346.7 872.5 350.0 871.5 C353.3 870.5 356.7 869.3 360.0 867.8 C363.3 866.3 366.7 864.5 370.0 862.4 C373.3 860.4 376.7 858.1 380.0 855.6 C383.3 853.0 386.7 850.2 390.0 847.3 C393.3 844.3 396.7 841.0 400.0 837.7 C403.3 834.3 406.7 830.8 410.0 827.2 C413.3 823.6 416.7 819.8 420.0 816.1 C423.3 812.3 426.7 808.5 430.0 804.8 C433.3 801.0 436.7 797.3 440.0 793.6 C443.3 789.9 446.7 786.3 450.0 782.7 C453.3 779.1 456.7 775.5 460.0 771.8 C463.3 768.2 466.7 764.6 470.0 760.9 C473.3 757.2 476.7 753.4 480.0 749.6 C483.3 745.7 486.7 741.8 490.0 737.8 C493.3 733.7 496.7 729.6 500.0 725.3 C503.3 721.0 506.7 716.5 510.0 712.0 C513.3 707.4 516.7 702.6 520.0 697.8 C523.3 693.0 526.7 688.1 530.0 683.1 C533.3 678.1 536.7 673.0 540.0 667.9 C543.3 662.8 546.7 657.6 550.0 652.5 C553.3 647.3 556.7 642.1 560.0 636.9 C563.3 631.7 566.7 626.5 570.0 621.4 C573.3 616.3 576.7 611.2 580.0 606.2 C583.3 601.2 586.7 596.2 590.0 591.4 C593.3 586.6 596.7 581.9 600.0 577.2 C603.3 572.5 606.7 567.8 610.0 563.3 C613.3 558.7 616.7 554.2 620.0 550.1 C623.3 545.9 626.7 541.9 630.0 538.2 C633.3 534.5 636.7 531.1 640.0 527.8 C643.3 524.6 646.7 521.6 650.0 518.8 C653.3 516.1 656.7 513.4 660.0 511.1 C663.3 508.8 666.7 506.8 670.0 505.1 C673.3 503.4 676.7 502.0 680.0 500.7 C683.3 499.4 686.7 498.3 690.0 497.4 C693.3 496.6 696.7 496.0 700.0 495.5 C703.3 494.9 706.7 494.5 710.0 494.2 C713.3 493.9 716.7 493.6 720.0 493.6 C723.3 493.6 726.7 493.7 730.0 494.1 C733.3 494.4 736.7 494.9 740.0 495.6 C743.3 496.3 746.7 496.9 750.0 498.0 C753.3 499.2 756.7 500.6 760.0 502.4 C763.3 504.1 766.7 506.1 770.0 508.4 C773.3 510.7 776.7 513.3 780.0 516.2 C783.3 519.0 786.7 522.1 790.0 525.3 C793.3 528.6 796.7 532.0 800.0 535.7 C803.3 539.3 806.7 543.1 810.0 547.1 C813.3 551.1 816.7 555.3 820.0 559.7 C823.3 564.0 826.7 568.8 830.0 573.2 C833.3 577.7 836.7 582.0 840.0 586.5 C843.3 591.0 846.7 595.6 850.0 600.2 C853.3 604.9 856.7 609.6 860.0 614.4 C863.3 619.2 866.7 624.1 870.0 629.0 C873.3 633.9 876.7 638.9 880.0 643.9 C883.3 648.9 886.7 653.9 890.0 658.9 C893.3 664.0 896.7 669.0 900.0 674.1 C903.3 679.1 906.7 684.2 910.0 689.2 C913.3 694.3 916.7 699.3 920.0 704.3 C923.3 709.3 926.7 714.3 930.0 719.2 C933.3 724.1 936.7 729.0 940.0 733.8 C943.3 738.7 946.7 743.4 950.0 748.1 C953.3 752.8 956.7 757.5 960.0 762.0 C963.3 766.5 966.7 771.0 970.0 775.3 C973.3 779.7 976.7 783.9 980.0 788.1 C983.3 792.2 986.7 796.2 990.0 800.1 C993.3 804.0 996.7 807.8 1000.0 811.4 C1003.3 815.1 1006.7 818.6 1010.0 821.9 C1013.3 825.2 1016.7 828.4 1020.0 831.4 C1023.3 834.4 1026.7 837.3 1030.0 839.9 C1033.3 842.6 1036.7 845.1 1040.0 847.4 C1043.3 849.6 1046.7 851.7 1050.0 853.6 C1053.3 855.5 1056.7 857.2 1060.0 858.7 C1063.3 860.2 1066.7 861.6 1070.0 862.8 C1073.3 864.1 1076.7 865.2 1080.0 866.2 C1083.3 867.2 1086.7 868.1 1090.0 869.0 C1093.3 869.9 1096.7 870.7 1100.0 871.5 C1103.3 872.3 1106.7 873.1 1110.0 873.9 C1113.3 874.6 1116.7 875.4 1120.0 876.1 C1123.3 876.8 1126.7 877.5 1130.0 878.2 C1133.3 878.8 1136.7 879.4 1140.0 880.0 C1143.3 880.6 1146.7 881.1 1150.0 881.6 C1153.3 882.1 1156.7 882.5 1160.0 882.8 C1163.3 883.2 1166.7 883.5 1170.0 883.7 C1173.3 883.9 1176.7 884.0 1180.0 884.1 C1183.3 884.2 1186.7 884.2 1190.0 884.1 C1193.3 884.1 1196.7 883.9 1200.0 883.8 C1203.3 883.6 1206.7 883.4 1210.0 883.2 C1213.3 883.0 1216.7 882.7 1220.0 882.4 C1223.3 882.1 1226.7 881.7 1230.0 881.4 C1233.3 881.1 1236.7 880.7 1240.0 880.3 C1243.3 879.9 1246.7 879.6 1250.0 879.2 C1253.3 878.8 1256.7 878.4 1260.0 878.0 C1263.3 877.7 1266.7 877.3 1270.0 877.0 C1273.3 876.7 1276.7 876.3 1280.0 876.1 C1283.3 875.8 1286.7 875.5 1290.0 875.3 C1293.3 875.1 1296.7 874.9 1300.0 874.8 C1303.3 874.7 1306.7 874.6 1310.0 874.6 C1313.3 874.6 1316.7 874.6 1320.0 874.7 C1323.3 874.8 1326.7 874.9 1330.0 875.1 C1333.3 875.3 1336.7 875.5 1340.0 875.8 C1343.3 876.1 1346.7 876.4 1350.0 876.8 C1353.3 877.2 1356.7 877.7 1360.0 878.2 C1363.3 878.7 1366.7 879.2 1370.0 879.8 C1373.3 880.4 1376.7 881.1 1380.0 881.8 C1383.3 882.5 1386.7 883.3 1390.0 884.1 C1393.3 884.9 1396.7 885.8 1400.0 886.7 C1403.3 887.7 1406.7 888.7 1410.0 889.7 C1413.3 890.8 1416.7 891.9 1420.0 893.0 C1423.3 894.1 1426.7 895.3 1430.0 896.6 C1433.3 897.8 1436.7 899.0 1440.0 900.3 C1443.3 901.6 1446.7 902.9 1450.0 904.2 C1453.3 905.5 1456.7 906.8 1460.0 908.1 C1463.3 909.4 1466.7 910.7 1470.0 912.0 C1473.3 913.3 1476.7 914.6 1480.0 915.9 C1483.3 917.1 1486.7 918.4 1490.0 919.6 C1493.3 920.7 1496.7 921.9 1500.0 923.0 C1503.3 924.2 1506.7 925.3 1510.0 926.3 C1513.3 927.3 1516.7 928.3 1520.0 929.3 C1523.3 930.2 1526.7 931.1 1530.0 932.0 C1533.3 932.8 1536.7 933.6 1540.0 934.3 C1543.3 935.1 1546.7 935.8 1550.0 936.4 C1553.3 937.0 1556.7 937.5 1560.0 938.0 C1563.3 938.5 1566.7 938.9 1570.0 939.2 C1573.3 939.6 1576.7 939.9 1580.0 940.2 C1583.3 940.4 1586.7 940.6 1590.0 940.7 C1593.3 940.9 1596.7 941.0 1600.0 941.0 C1603.3 941.1 1606.7 941.1 1610.0 941.0 C1613.3 941.0 1616.7 940.9 1620.0 940.8 C1623.3 940.7 1626.7 940.5 1630.0 940.3 C1633.3 940.1 1636.7 939.9 1640.0 939.7 C1643.3 939.4 1646.7 939.1 1650.0 938.8 C1653.3 938.5 1656.7 938.2 1660.0 937.8 C1663.3 937.4 1666.7 937.0 1670.0 936.6 C1673.3 936.2 1676.7 935.8 1680.0 935.3 C1683.3 934.9 1686.7 934.4 1690.0 933.9 C1693.3 933.4 1696.7 932.9 1700.0 932.4 C1703.3 931.8 1706.7 931.3 1710.0 930.7 C1713.3 930.2 1716.7 929.6 1720.0 929.0 C1723.3 928.3 1726.7 927.7 1730.0 927.1 C1733.3 926.4 1736.7 925.8 1740.0 925.1 C1743.3 924.5 1746.7 923.8 1750.0 923.1 C1753.3 922.4 1756.7 921.7 1760.0 921.0 C1763.3 920.2 1766.7 919.5 1770.0 918.8 C1773.3 918.0 1776.7 917.3 1780.0 916.5 C1783.3 915.7 1786.7 915.0 1790.0 914.2 C1793.3 913.4 1796.7 912.6 1800.0 911.8 C1803.3 911.0 1806.7 910.2 1810.0 909.4 C1813.3 908.6 1816.7 907.8 1820.0 907.0 C1823.3 906.2 1826.7 905.3 1830.0 904.5 C1833.3 903.7 1836.7 902.8 1840.0 902.0 C1843.3 901.2 1846.7 900.3 1850.0 899.5 C1853.3 898.7 1856.7 897.9 1860.0 897.1 C1863.3 896.3 1866.7 895.5 1870.0 894.7 C1873.3 893.9 1876.7 893.0 1880.0 892.2 C1883.3 891.4 1886.7 890.7 1890.0 889.9 C1893.3 889.1 1896.7 888.3 1900.0 887.5 C1903.3 886.7 1906.7 885.9 1910.0 885.2 C1913.3 884.4 1916.7 883.7 1920.0 882.9 C1923.3 882.2 1926.3 881.5 1930.0 880.7 C1933.7 879.9 1940.0 878.5 1942.0 878.0" stroke="#963900"/>
<path d="M296.0 645.4 C298.3 647.3 306.0 653.3 310.0 656.5 C314.0 659.6 316.7 662.2 320.0 664.3 C323.3 666.5 326.7 668.1 330.0 669.3 C333.3 670.5 336.7 671.3 340.0 671.7 C343.3 672.1 346.7 672.2 350.0 671.9 C353.3 671.7 356.7 671.0 360.0 670.2 C363.3 669.3 366.7 668.1 370.0 666.7 C373.3 665.3 376.7 663.6 380.0 661.8 C383.3 659.9 386.7 657.8 390.0 655.5 C393.3 653.3 396.7 650.8 400.0 648.2 C403.3 645.6 406.7 642.8 410.0 640.0 C413.3 637.2 416.7 634.2 420.0 631.2 C423.3 628.1 426.7 625.0 430.0 621.9 C433.3 618.7 436.7 615.6 440.0 612.4 C443.3 609.2 446.7 606.0 450.0 602.7 C453.3 599.4 456.7 596.1 460.0 592.6 C463.3 589.2 466.7 585.7 470.0 582.1 C473.3 578.5 476.7 574.8 480.0 570.9 C483.3 567.0 486.7 563.1 490.0 558.9 C493.3 554.8 496.7 550.5 500.0 546.0 C503.3 541.5 506.7 536.9 510.0 532.1 C513.3 527.3 516.7 522.3 520.0 517.2 C523.3 512.2 526.7 506.9 530.0 501.7 C533.3 496.4 536.7 490.9 540.0 485.5 C543.3 480.0 546.7 474.4 550.0 468.8 C553.3 463.2 556.7 457.5 560.0 451.9 C563.3 446.2 566.7 440.4 570.0 434.7 C573.3 429.0 576.7 423.3 580.0 417.6 C583.3 411.9 586.7 406.3 590.0 400.6 C593.3 395.0 596.7 389.5 600.0 383.9 C603.3 378.4 606.7 372.7 610.0 367.2 C613.3 361.6 616.7 355.9 620.0 350.5 C623.3 345.1 626.7 339.9 630.0 334.8 C633.3 329.6 636.7 324.7 640.0 319.9 C643.3 315.1 646.7 310.5 650.0 306.1 C653.3 301.7 656.7 297.5 660.0 293.5 C663.3 289.4 666.7 285.6 670.0 282.0 C673.3 278.4 676.7 274.9 680.0 271.9 C683.3 268.8 686.7 266.1 690.0 263.6 C693.3 261.1 696.7 258.9 700.0 256.9 C703.3 254.8 706.7 253.0 710.0 251.3 C713.3 249.6 716.7 248.1 720.0 246.8 C723.3 245.4 726.7 244.2 730.0 243.2 C733.3 242.1 736.7 241.3 740.0 240.7 C743.3 240.0 746.7 239.5 750.0 239.4 C753.3 239.2 756.7 239.3 760.0 239.9 C763.3 240.5 766.7 241.4 770.0 242.8 C773.3 244.3 776.7 246.4 780.0 248.5 C783.3 250.5 786.7 252.9 790.0 255.3 C793.3 257.8 796.7 260.2 800.0 263.1 C803.3 265.9 806.7 269.1 810.0 272.2 C813.3 275.4 816.7 278.5 820.0 282.1 C823.3 285.7 826.7 289.5 830.0 293.9 C833.3 298.2 836.7 302.8 840.0 308.1 C843.3 313.4 846.7 319.5 850.0 325.7 C853.3 331.9 856.7 338.5 860.0 345.4 C863.3 352.3 866.7 359.5 870.0 367.0 C873.3 374.4 876.7 382.3 880.0 390.2 C883.3 398.2 886.7 406.6 890.0 414.7 C893.3 422.8 896.7 431.0 900.0 438.8 C903.3 446.5 906.7 453.9 910.0 461.2 C913.3 468.6 916.7 475.8 920.0 483.0 C923.3 490.1 926.7 497.0 930.0 503.9 C933.3 510.7 936.7 517.4 940.0 523.9 C943.3 530.4 946.7 536.8 950.0 543.0 C953.3 549.2 956.7 555.3 960.0 561.2 C963.3 567.1 966.7 572.8 970.0 578.4 C973.3 584.0 976.7 589.4 980.0 594.8 C983.3 600.1 986.7 605.4 990.0 610.5 C993.3 615.7 996.7 620.7 1000.0 625.7 C1003.3 630.7 1006.7 635.6 1010.0 640.4 C1013.3 645.2 1016.7 649.9 1020.0 654.5 C1023.3 659.1 1026.7 663.6 1030.0 667.9 C1033.3 672.3 1036.7 676.5 1040.0 680.6 C1043.3 684.7 1046.7 688.7 1050.0 692.5 C1053.3 696.3 1056.7 700.0 1060.0 703.5 C1063.3 707.0 1066.7 710.4 1070.0 713.6 C1073.3 716.7 1076.7 719.7 1080.0 722.5 C1083.3 725.3 1086.7 728.0 1090.0 730.5 C1093.3 733.0 1096.7 735.3 1100.0 737.5 C1103.3 739.6 1106.7 741.7 1110.0 743.6 C1113.3 745.5 1116.7 747.2 1120.0 748.8 C1123.3 750.4 1126.7 751.9 1130.0 753.3 C1133.3 754.7 1136.7 755.9 1140.0 757.1 C1143.3 758.2 1146.7 759.2 1150.0 760.1 C1153.3 761.1 1156.7 761.9 1160.0 762.6 C1163.3 763.4 1166.7 764.0 1170.0 764.5 C1173.3 765.1 1176.7 765.6 1180.0 766.0 C1183.3 766.4 1186.7 766.7 1190.0 766.9 C1193.3 767.2 1196.7 767.4 1200.0 767.5 C1203.3 767.7 1206.7 767.8 1210.0 767.8 C1213.3 767.8 1216.7 767.8 1220.0 767.8 C1223.3 767.8 1226.7 767.7 1230.0 767.6 C1233.3 767.5 1236.7 767.3 1240.0 767.2 C1243.3 767.1 1246.7 766.9 1250.0 766.7 C1253.3 766.6 1256.7 766.4 1260.0 766.2 C1263.3 766.0 1266.7 765.8 1270.0 765.7 C1273.3 765.5 1276.7 765.4 1280.0 765.2 C1283.3 765.1 1286.7 765.0 1290.0 764.9 C1293.3 764.8 1296.7 764.8 1300.0 764.8 C1303.3 764.8 1306.7 764.8 1310.0 764.9 C1313.3 764.9 1316.7 765.0 1320.0 765.2 C1323.3 765.4 1326.7 765.6 1330.0 765.8 C1333.3 766.1 1336.7 766.4 1340.0 766.7 C1343.3 767.1 1346.7 767.5 1350.0 767.9 C1353.3 768.4 1356.7 768.9 1360.0 769.4 C1363.3 770.0 1366.7 770.6 1370.0 771.2 C1373.3 771.9 1376.7 772.6 1380.0 773.4 C1383.3 774.2 1386.7 775.0 1390.0 775.9 C1393.3 776.9 1396.7 777.8 1400.0 778.9 C1403.3 779.9 1406.7 781.0 1410.0 782.1 C1413.3 783.3 1416.7 784.5 1420.0 785.8 C1423.3 787.1 1426.7 788.5 1430.0 789.9 C1433.3 791.4 1436.7 792.9 1440.0 794.4 C1443.3 796.0 1446.7 797.6 1450.0 799.2 C1453.3 800.8 1456.7 802.4 1460.0 804.1 C1463.3 805.7 1466.7 807.4 1470.0 809.0 C1473.3 810.6 1476.7 812.3 1480.0 813.9 C1483.3 815.5 1486.7 817.1 1490.0 818.6 C1493.3 820.1 1496.7 821.6 1500.0 823.0 C1503.3 824.4 1506.7 825.8 1510.0 827.0 C1513.3 828.3 1516.7 829.6 1520.0 830.7 C1523.3 831.9 1526.7 832.9 1530.0 834.0 C1533.3 835.0 1536.7 835.9 1540.0 836.8 C1543.3 837.7 1546.7 838.5 1550.0 839.2 C1553.3 840.0 1556.7 840.6 1560.0 841.2 C1563.3 841.8 1566.7 842.4 1570.0 842.8 C1573.3 843.3 1576.7 843.7 1580.0 844.1 C1583.3 844.5 1586.7 844.8 1590.0 845.0 C1593.3 845.3 1596.7 845.5 1600.0 845.7 C1603.3 845.8 1606.7 846.0 1610.0 846.1 C1613.3 846.1 1616.7 846.2 1620.0 846.2 C1623.3 846.3 1626.7 846.2 1630.0 846.2 C1633.3 846.2 1636.7 846.1 1640.0 846.1 C1643.3 846.0 1646.7 845.9 1650.0 845.8 C1653.3 845.6 1656.7 845.5 1660.0 845.3 C1663.3 845.2 1666.7 845.0 1670.0 844.7 C1673.3 844.5 1676.7 844.3 1680.0 844.0 C1683.3 843.7 1686.7 843.4 1690.0 843.1 C1693.3 842.7 1696.7 842.4 1700.0 842.0 C1703.3 841.6 1706.7 841.2 1710.0 840.7 C1713.3 840.3 1716.7 839.8 1720.0 839.3 C1723.3 838.8 1726.7 838.2 1730.0 837.7 C1733.3 837.1 1736.7 836.5 1740.0 835.9 C1743.3 835.2 1746.7 834.6 1750.0 833.9 C1753.3 833.2 1756.7 832.5 1760.0 831.8 C1763.3 831.0 1766.7 830.3 1770.0 829.5 C1773.3 828.7 1776.7 827.9 1780.0 827.0 C1783.3 826.2 1786.7 825.4 1790.0 824.5 C1793.3 823.7 1796.7 822.8 1800.0 821.9 C1803.3 821.0 1806.7 820.1 1810.0 819.2 C1813.3 818.3 1816.7 817.3 1820.0 816.4 C1823.3 815.5 1826.7 814.5 1830.0 813.6 C1833.3 812.7 1836.7 811.7 1840.0 810.7 C1843.3 809.8 1846.7 808.8 1850.0 807.9 C1853.3 806.9 1856.7 806.0 1860.0 805.0 C1863.3 804.1 1866.7 803.1 1870.0 802.2 C1873.3 801.3 1876.7 800.3 1880.0 799.4 C1883.3 798.5 1886.7 797.6 1890.0 796.6 C1893.3 795.7 1896.7 794.9 1900.0 794.0 C1903.3 793.1 1906.7 792.2 1910.0 791.4 C1913.3 790.5 1916.7 789.7 1920.0 788.9 C1923.3 788.1 1926.3 787.4 1930.0 786.5 C1933.7 785.6 1940.0 784.1 1942.0 783.6" stroke="#4c4285"/>
<path d="M296.0 503.9 C298.3 504.5 306.0 506.3 310.0 507.2 C314.0 508.1 316.7 508.9 320.0 509.5 C323.3 510.1 326.7 510.5 330.0 510.8 C333.3 511.0 336.7 511.1 340.0 511.0 C343.3 510.9 346.7 510.6 350.0 510.2 C353.3 509.7 356.7 509.1 360.0 508.4 C363.3 507.7 366.7 506.8 370.0 505.7 C373.3 504.7 376.7 503.5 380.0 502.2 C383.3 500.9 386.7 499.5 390.0 497.9 C393.3 496.3 396.7 494.6 400.0 492.8 C403.3 491.0 406.7 489.0 410.0 487.0 C413.3 484.9 416.7 482.8 420.0 480.5 C423.3 478.2 426.7 475.8 430.0 473.4 C433.3 470.9 436.7 468.3 440.0 465.7 C443.3 463.0 446.7 460.3 450.0 457.4 C453.3 454.6 456.7 451.7 460.0 448.7 C463.3 445.7 466.7 442.6 470.0 439.4 C473.3 436.3 476.7 433.0 480.0 429.7 C483.3 426.4 486.7 423.0 490.0 419.5 C493.3 416.0 496.7 412.5 500.0 408.9 C503.3 405.2 506.7 401.5 510.0 397.8 C513.3 394.0 516.7 390.1 520.0 386.2 C523.3 382.3 526.7 378.3 530.0 374.3 C533.3 370.2 536.7 366.1 540.0 361.9 C543.3 357.6 546.7 353.4 550.0 349.0 C553.3 344.7 556.7 340.3 560.0 335.8 C563.3 331.3 566.7 326.8 570.0 322.2 C573.3 317.6 576.7 312.9 580.0 308.2 C583.3 303.4 586.7 298.6 590.0 293.8 C593.3 288.9 596.7 284.0 600.0 279.0 C603.3 274.0 606.7 269.0 610.0 263.9 C613.3 258.9 616.7 253.7 620.0 248.6 C623.3 243.4 626.7 238.2 630.0 233.0 C633.3 227.8 636.7 222.6 640.0 217.4 C643.3 212.2 646.7 207.0 650.0 201.8 C653.3 196.6 656.7 191.4 660.0 186.3 C663.3 181.2 666.7 176.1 670.0 171.0 C673.3 166.0 676.7 161.0 680.0 156.0 C683.3 151.1 686.7 146.2 690.0 141.4 C693.3 136.6 696.7 131.9 700.0 127.3 C703.3 122.7 706.7 118.1 710.0 113.7 C713.3 109.3 716.7 104.9 720.0 100.7 C723.3 96.5 726.7 92.4 730.0 88.5 C733.3 84.6 736.7 80.8 740.0 77.1 C743.3 73.5 746.7 70.0 750.0 66.7 C753.3 63.4 756.7 60.2 760.0 57.2 C763.3 54.3 766.7 51.4 770.0 49.0 C773.3 46.6 776.7 44.5 780.0 42.7 C783.3 40.9 786.7 39.3 790.0 38.0 C793.3 36.7 796.7 35.9 800.0 35.0 C803.3 34.1 806.7 33.2 810.0 32.7 C813.3 32.2 816.7 32.1 820.0 32.1 C823.3 32.1 826.7 32.1 830.0 32.7 C833.3 33.3 836.7 34.2 840.0 35.7 C843.3 37.3 846.7 39.5 850.0 42.0 C853.3 44.6 856.7 47.7 860.0 51.1 C863.3 54.5 866.7 58.4 870.0 62.6 C873.3 66.9 876.7 71.5 880.0 76.5 C883.3 81.6 886.7 87.1 890.0 92.8 C893.3 98.6 896.7 104.7 900.0 111.0 C903.3 117.3 906.7 124.0 910.0 130.7 C913.3 137.4 916.7 144.3 920.0 151.3 C923.3 158.3 926.7 165.6 930.0 172.8 C933.3 180.0 936.7 187.4 940.0 194.6 C943.3 201.8 946.7 209.1 950.0 216.2 C953.3 223.3 956.7 230.3 960.0 237.1 C963.3 243.9 966.7 250.6 970.0 257.0 C973.3 263.5 976.7 269.8 980.0 276.0 C983.3 282.1 986.7 287.9 990.0 293.8 C993.3 299.8 996.7 305.6 1000.0 311.7 C1003.3 317.7 1006.7 323.9 1010.0 330.1 C1013.3 336.3 1016.7 342.6 1020.0 348.9 C1023.3 355.2 1026.7 361.5 1030.0 367.7 C1033.3 374.0 1036.7 380.2 1040.0 386.4 C1043.3 392.5 1046.7 398.6 1050.0 404.5 C1053.3 410.4 1056.7 416.2 1060.0 421.9 C1063.3 427.5 1066.7 433.0 1070.0 438.2 C1073.3 443.4 1076.7 448.5 1080.0 453.2 C1083.3 458.0 1086.7 462.5 1090.0 466.7 C1093.3 470.9 1096.7 474.8 1100.0 478.4 C1103.3 482.1 1106.7 485.5 1110.0 488.7 C1113.3 491.9 1116.7 494.9 1120.0 497.7 C1123.3 500.5 1126.7 503.1 1130.0 505.6 C1133.3 508.1 1136.7 510.4 1140.0 512.6 C1143.3 514.9 1146.7 516.9 1150.0 519.0 C1153.3 521.0 1156.7 522.9 1160.0 524.9 C1163.3 526.8 1166.7 528.6 1170.0 530.5 C1173.3 532.3 1176.7 534.2 1180.0 536.0 C1183.3 537.8 1186.7 539.6 1190.0 541.3 C1193.3 543.1 1196.7 544.8 1200.0 546.4 C1203.3 548.0 1206.7 549.5 1210.0 551.0 C1213.3 552.4 1216.7 553.8 1220.0 555.1 C1223.3 556.3 1226.7 557.5 1230.0 558.5 C1233.3 559.5 1236.7 560.4 1240.0 561.2 C1243.3 562.0 1246.7 562.6 1250.0 563.2 C1253.3 563.7 1256.7 564.1 1260.0 564.5 C1263.3 564.8 1266.7 565.1 1270.0 565.3 C1273.3 565.5 1276.7 565.6 1280.0 565.8 C1283.3 565.9 1286.7 565.9 1290.0 566.0 C1293.3 566.1 1296.7 566.1 1300.0 566.2 C1303.3 566.2 1306.7 566.3 1310.0 566.4 C1313.3 566.5 1316.7 566.6 1320.0 566.7 C1323.3 566.8 1326.7 567.0 1330.0 567.2 C1333.3 567.3 1336.7 567.6 1340.0 567.8 C1343.3 568.1 1346.7 568.4 1350.0 568.7 C1353.3 569.0 1356.7 569.4 1360.0 569.9 C1363.3 570.3 1366.7 570.8 1370.0 571.4 C1373.3 571.9 1376.7 572.5 1380.0 573.2 C1383.3 573.9 1386.7 574.7 1390.0 575.5 C1393.3 576.3 1396.7 577.3 1400.0 578.2 C1403.3 579.2 1406.7 580.3 1410.0 581.5 C1413.3 582.6 1416.7 583.9 1420.0 585.1 C1423.3 586.4 1426.7 587.8 1430.0 589.2 C1433.3 590.6 1436.7 592.1 1440.0 593.6 C1443.3 595.1 1446.7 596.7 1450.0 598.2 C1453.3 599.8 1456.7 601.5 1460.0 603.1 C1463.3 604.7 1466.7 606.4 1470.0 608.0 C1473.3 609.7 1476.7 611.4 1480.0 613.1 C1483.3 614.7 1486.7 616.4 1490.0 618.1 C1493.3 619.7 1496.7 621.4 1500.0 623.0 C1503.3 624.7 1506.7 626.3 1510.0 627.8 C1513.3 629.4 1516.7 631.0 1520.0 632.4 C1523.3 633.9 1526.7 635.4 1530.0 636.8 C1533.3 638.2 1536.7 639.5 1540.0 640.8 C1543.3 642.1 1546.7 643.3 1550.0 644.4 C1553.3 645.5 1556.7 646.6 1560.0 647.5 C1563.3 648.5 1566.7 649.4 1570.0 650.2 C1573.3 651.0 1576.7 651.8 1580.0 652.5 C1583.3 653.1 1586.7 653.7 1590.0 654.3 C1593.3 654.8 1596.7 655.3 1600.0 655.7 C1603.3 656.1 1606.7 656.5 1610.0 656.8 C1613.3 657.1 1616.7 657.4 1620.0 657.6 C1623.3 657.8 1626.7 657.9 1630.0 658.0 C1633.3 658.2 1636.7 658.2 1640.0 658.2 C1643.3 658.3 1646.7 658.2 1650.0 658.2 C1653.3 658.1 1656.7 658.0 1660.0 657.9 C1663.3 657.8 1666.7 657.6 1670.0 657.5 C1673.3 657.3 1676.7 657.1 1680.0 656.8 C1683.3 656.6 1686.7 656.3 1690.0 656.1 C1693.3 655.8 1696.7 655.5 1700.0 655.2 C1703.3 654.9 1706.7 654.5 1710.0 654.2 C1713.3 653.8 1716.7 653.5 1720.0 653.1 C1723.3 652.7 1726.7 652.2 1730.0 651.8 C1733.3 651.3 1736.7 650.9 1740.0 650.4 C1743.3 649.9 1746.7 649.3 1750.0 648.8 C1753.3 648.2 1756.7 647.7 1760.0 647.1 C1763.3 646.4 1766.7 645.8 1770.0 645.2 C1773.3 644.5 1776.7 643.8 1780.0 643.1 C1783.3 642.4 1786.7 641.6 1790.0 640.9 C1793.3 640.1 1796.7 639.3 1800.0 638.5 C1803.3 637.7 1806.7 636.9 1810.0 636.0 C1813.3 635.2 1816.7 634.4 1820.0 633.5 C1823.3 632.6 1826.7 631.8 1830.0 630.9 C1833.3 630.0 1836.7 629.2 1840.0 628.3 C1843.3 627.4 1846.7 626.6 1850.0 625.7 C1853.3 624.8 1856.7 624.0 1860.0 623.1 C1863.3 622.3 1866.7 621.4 1870.0 620.6 C1873.3 619.7 1876.7 618.9 1880.0 618.1 C1883.3 617.3 1886.7 616.5 1890.0 615.8 C1893.3 615.0 1896.7 614.3 1900.0 613.6 C1903.3 612.9 1906.7 612.2 1910.0 611.5 C1913.3 610.9 1916.7 610.2 1920.0 609.6 C1923.3 609.0 1926.3 608.6 1930.0 608.0 C1933.7 607.4 1940.0 606.3 1942.0 606.0" stroke="#a5115d"/>
<path d="M296.0 1279.4 C298.3 1279.4 306.0 1279.0 310.0 1278.9 C314.0 1278.7 316.7 1278.6 320.0 1278.4 C323.3 1278.3 326.7 1278.2 330.0 1278.0 C333.3 1277.9 336.7 1277.7 340.0 1277.6 C343.3 1277.4 346.7 1277.2 350.0 1277.1 C353.3 1276.9 356.7 1276.7 360.0 1276.6 C363.3 1276.4 366.7 1276.2 370.0 1276.1 C373.3 1275.9 376.7 1275.7 380.0 1275.5 C383.3 1275.4 386.7 1275.2 390.0 1275.0 C393.3 1274.8 396.7 1274.6 400.0 1274.4 C403.3 1274.2 406.7 1274.0 410.0 1273.8 C413.3 1273.6 416.7 1273.4 420.0 1273.2 C423.3 1273.0 426.7 1272.8 430.0 1272.5 C433.3 1272.3 436.7 1272.1 440.0 1271.9 C443.3 1271.7 446.7 1271.4 450.0 1271.2 C453.3 1271.0 456.7 1270.7 460.0 1270.5 C463.3 1270.2 466.7 1270.0 470.0 1269.7 C473.3 1269.5 476.7 1269.2 480.0 1269.0 C483.3 1268.7 486.7 1268.5 490.0 1268.2 C493.3 1267.9 496.7 1267.7 500.0 1267.4 C503.3 1267.1 506.7 1266.8 510.0 1266.6 C513.3 1266.3 516.7 1266.0 520.0 1265.7 C523.3 1265.4 526.7 1265.1 530.0 1264.8 C533.3 1264.5 536.7 1264.2 540.0 1263.9 C543.3 1263.6 546.7 1263.3 550.0 1263.0 C553.3 1262.6 556.7 1262.3 560.0 1262.0 C563.3 1261.7 566.7 1261.3 570.0 1261.0 C573.3 1260.7 576.7 1260.3 580.0 1260.0 C583.3 1259.6 586.7 1259.3 590.0 1258.9 C593.3 1258.6 596.7 1258.2 600.0 1257.8 C603.3 1257.5 606.7 1257.1 610.0 1256.7 C613.3 1256.4 616.7 1256.0 620.0 1255.6 C623.3 1255.2 626.7 1254.8 630.0 1254.4 C633.3 1254.0 636.7 1253.6 640.0 1253.2 C643.3 1252.8 646.7 1252.4 650.0 1252.0 C653.3 1251.6 656.7 1251.1 660.0 1250.7 C663.3 1250.3 666.7 1249.9 670.0 1249.4 C673.3 1249.0 676.7 1248.5 680.0 1248.1 C683.3 1247.6 686.7 1247.2 690.0 1246.7 C693.3 1246.3 696.7 1245.8 700.0 1245.3 C703.3 1244.9 706.7 1244.4 710.0 1243.9 C713.3 1243.4 716.7 1242.9 720.0 1242.4 C723.3 1242.0 726.7 1241.5 730.0 1241.0 C733.3 1240.4 736.7 1239.9 740.0 1239.4 C743.3 1238.9 746.7 1238.4 750.0 1237.9 C753.3 1237.3 756.7 1236.8 760.0 1236.3 C763.3 1235.7 766.7 1235.2 770.0 1234.6 C773.3 1234.1 776.7 1233.5 780.0 1232.9 C783.3 1232.4 786.7 1231.8 790.0 1231.2 C793.3 1230.7 796.7 1230.1 800.0 1229.5 C803.3 1228.9 806.7 1228.3 810.0 1227.7 C813.3 1227.1 816.7 1226.5 820.0 1225.9 C823.3 1225.3 826.7 1224.7 830.0 1224.1 C833.3 1223.5 836.7 1222.9 840.0 1222.3 C843.3 1221.6 846.7 1221.0 850.0 1220.4 C853.3 1219.7 856.7 1219.1 860.0 1218.5 C863.3 1217.8 866.7 1217.2 870.0 1216.5 C873.3 1215.9 876.7 1215.2 880.0 1214.6 C883.3 1213.9 886.7 1213.3 890.0 1212.6 C893.3 1211.9 896.7 1211.3 900.0 1210.6 C903.3 1209.9 906.7 1209.2 910.0 1208.6 C913.3 1207.9 916.7 1207.2 920.0 1206.5 C923.3 1205.8 926.7 1205.1 930.0 1204.4 C933.3 1203.7 936.7 1203.1 940.0 1202.4 C943.3 1201.7 946.7 1200.9 950.0 1200.2 C953.3 1199.5 956.7 1198.8 960.0 1198.1 C963.3 1197.4 966.7 1196.7 970.0 1196.0 C973.3 1195.3 976.7 1194.5 980.0 1193.8 C983.3 1193.1 986.7 1192.4 990.0 1191.6 C993.3 1190.9 996.7 1190.2 1000.0 1189.5 C1003.3 1188.7 1006.7 1188.0 1010.0 1187.3 C1013.3 1186.5 1016.7 1185.8 1020.0 1185.0 C1023.3 1184.3 1026.7 1183.6 1030.0 1182.8 C1033.3 1182.1 1036.7 1181.3 1040.0 1180.6 C1043.3 1179.8 1046.7 1179.1 1050.0 1178.3 C1053.3 1177.6 1056.7 1176.8 1060.0 1176.1 C1063.3 1175.3 1066.7 1174.6 1070.0 1173.8 C1073.3 1173.1 1076.7 1172.3 1080.0 1171.6 C1083.3 1170.8 1086.7 1170.1 1090.0 1169.3 C1093.3 1168.5 1096.7 1167.8 1100.0 1167.0 C1103.3 1166.3 1106.7 1165.5 1110.0 1164.7 C1113.3 1164.0 1116.7 1163.2 1120.0 1162.5 C1123.3 1161.7 1126.7 1161.0 1130.0 1160.2 C1133.3 1159.4 1136.7 1158.7 1140.0 1157.9 C1143.3 1157.2 1146.7 1156.4 1150.0 1155.7 C1153.3 1155.0 1156.7 1154.2 1160.0 1153.5 C1163.3 1152.7 1166.7 1152.0 1170.0 1151.3 C1173.3 1150.5 1176.7 1149.8 1180.0 1149.1 C1183.3 1148.3 1186.7 1147.6 1190.0 1146.9 C1193.3 1146.2 1196.7 1145.4 1200.0 1144.7 C1203.3 1144.0 1206.7 1143.3 1210.0 1142.6 C1213.3 1141.8 1216.7 1141.1 1220.0 1140.4 C1223.3 1139.7 1226.7 1139.0 1230.0 1138.3 C1233.3 1137.6 1236.7 1136.9 1240.0 1136.2 C1243.3 1135.5 1246.7 1134.8 1250.0 1134.1 C1253.3 1133.4 1256.7 1132.7 1260.0 1132.0 C1263.3 1131.3 1266.7 1130.7 1270.0 1130.0 C1273.3 1129.3 1276.7 1128.6 1280.0 1127.9 C1283.3 1127.2 1286.7 1126.6 1290.0 1125.9 C1293.3 1125.2 1296.7 1124.5 1300.0 1123.9 C1303.3 1123.2 1306.7 1122.5 1310.0 1121.9 C1313.3 1121.2 1316.7 1120.5 1320.0 1119.9 C1323.3 1119.2 1326.7 1118.5 1330.0 1117.9 C1333.3 1117.2 1336.7 1116.6 1340.0 1115.9 C1343.3 1115.3 1346.7 1114.6 1350.0 1114.0 C1353.3 1113.3 1356.7 1112.7 1360.0 1112.0 C1363.3 1111.4 1366.7 1110.7 1370.0 1110.1 C1373.3 1109.5 1376.7 1108.8 1380.0 1108.2 C1383.3 1107.5 1386.7 1106.9 1390.0 1106.3 C1393.3 1105.6 1396.7 1105.0 1400.0 1104.4 C1403.3 1103.7 1406.7 1103.1 1410.0 1102.5 C1413.3 1101.9 1416.7 1101.2 1420.0 1100.6 C1423.3 1100.0 1426.7 1099.3 1430.0 1098.7 C1433.3 1098.1 1436.7 1097.5 1440.0 1096.8 C1443.3 1096.2 1446.7 1095.6 1450.0 1094.9 C1453.3 1094.3 1456.7 1093.7 1460.0 1093.0 C1463.3 1092.4 1466.7 1091.8 1470.0 1091.1 C1473.3 1090.5 1476.7 1089.8 1480.0 1089.2 C1483.3 1088.6 1486.7 1087.9 1490.0 1087.3 C1493.3 1086.6 1496.7 1086.0 1500.0 1085.3 C1503.3 1084.6 1506.7 1084.0 1510.0 1083.3 C1513.3 1082.7 1516.7 1082.0 1520.0 1081.3 C1523.3 1080.6 1526.7 1080.0 1530.0 1079.3 C1533.3 1078.6 1536.7 1077.9 1540.0 1077.2 C1543.3 1076.5 1546.7 1075.8 1550.0 1075.1 C1553.3 1074.4 1556.7 1073.7 1560.0 1073.0 C1563.3 1072.3 1566.7 1071.6 1570.0 1070.8 C1573.3 1070.1 1576.7 1069.4 1580.0 1068.6 C1583.3 1067.9 1586.7 1067.1 1590.0 1066.4 C1593.3 1065.6 1596.7 1064.8 1600.0 1064.1 C1603.3 1063.3 1606.7 1062.5 1610.0 1061.7 C1613.3 1060.9 1616.7 1060.1 1620.0 1059.3 C1623.3 1058.5 1626.7 1057.7 1630.0 1056.8 C1633.3 1056.0 1636.7 1055.2 1640.0 1054.3 C1643.3 1053.5 1646.7 1052.6 1650.0 1051.7 C1653.3 1050.9 1656.7 1050.0 1660.0 1049.1 C1663.3 1048.2 1666.7 1047.3 1670.0 1046.4 C1673.3 1045.5 1676.7 1044.5 1680.0 1043.6 C1683.3 1042.7 1686.7 1041.7 1690.0 1040.7 C1693.3 1039.8 1696.7 1038.8 1700.0 1037.8 C1703.3 1036.8 1706.7 1035.8 1710.0 1034.8 C1713.3 1033.8 1716.7 1032.8 1720.0 1031.7 C1723.3 1030.7 1726.7 1029.6 1730.0 1028.5 C1733.3 1027.5 1736.7 1026.4 1740.0 1025.3 C1743.3 1024.2 1746.7 1023.1 1750.0 1021.9 C1753.3 1020.8 1756.7 1019.7 1760.0 1018.5 C1763.3 1017.3 1766.7 1016.1 1770.0 1015.0 C1773.3 1013.8 1776.7 1012.5 1780.0 1011.3 C1783.3 1010.1 1786.7 1008.8 1790.0 1007.6 C1793.3 1006.3 1796.7 1005.0 1800.0 1003.7 C1803.3 1002.4 1806.7 1001.1 1810.0 999.8 C1813.3 998.5 1816.7 997.1 1820.0 995.7 C1823.3 994.4 1826.7 993.0 1830.0 991.6 C1833.3 990.2 1836.7 988.7 1840.0 987.3 C1843.3 985.9 1846.7 984.4 1850.0 982.9 C1853.3 981.4 1856.7 979.9 1860.0 978.4 C1863.3 976.9 1866.7 975.3 1870.0 973.7 C1873.3 972.2 1876.7 970.6 1880.0 969.0 C1883.3 967.4 1886.7 965.7 1890.0 964.1 C1893.3 962.4 1896.7 960.7 1900.0 959.0 C1903.3 957.3 1906.7 955.6 1910.0 953.9 C1913.3 952.1 1916.7 950.3 1920.0 948.6 C1923.3 946.8 1926.3 945.2 1930.0 943.3 C1933.7 941.3 1940.0 937.9 1942.0 936.9" stroke="#444444"/>
</g>
<g stroke="#000" fill="none">
<rect x="303.5" y="24" width="1629.5" height="1313" stroke-width="9.5"/>
<g stroke-width="10">
<line x1="277" y1="155" x2="300" y2="155"/>
<line x1="277" y1="469.5" x2="300" y2="469.5"/>
<line x1="277" y1="784" x2="300" y2="784"/>
<line x1="277" y1="1098.5" x2="300" y2="1098.5"/>
<line x1="290.5" y1="312.25" x2="300" y2="312.25"/>
<line x1="290.5" y1="626.75" x2="300" y2="626.75"/>
<line x1="290.5" y1="941.25" x2="300" y2="941.25"/>
<line x1="290.5" y1="1255.75" x2="300" y2="1255.75"/>
<line x1="303.5" y1="1340" x2="303.5" y2="1362"/>
<line x1="846.6" y1="1340" x2="846.6" y2="1362"/>
<line x1="1389.7" y1="1340" x2="1389.7" y2="1362"/>
<line x1="1932.8" y1="1340" x2="1932.8" y2="1362"/>
<line x1="575.05" y1="1340" x2="575.05" y2="1349.5"/>
<line x1="1118.15" y1="1340" x2="1118.15" y2="1349.5"/>
<line x1="1661.25" y1="1340" x2="1661.25" y2="1349.5"/>
</g></g>
<text class="ab" x="259" y="177.6" font-size="79.5" text-anchor="end">160</text>
<text class="ab" x="259" y="492.1" font-size="79.5" text-anchor="end">120</text>
<text class="ab" x="259" y="806.6" font-size="79.5" text-anchor="end">80</text>
<text class="ab" x="259" y="1121.1" font-size="79.5" text-anchor="end">40</text>
<text class="ab" x="303.5" y="1442.8" font-size="79.5" text-anchor="middle">0.2</text>
<text class="ab" x="846.6" y="1442.8" font-size="79.5" text-anchor="middle">0.4</text>
<text class="ab" x="1389.7" y="1442.8" font-size="79.5" text-anchor="middle">0.6</text>
<text class="ab" x="1932.8" y="1442.8" font-size="79.5" text-anchor="middle">0.8</text>
<text class="ab" font-size="85" text-anchor="middle" transform="translate(91.5 679) rotate(-90)">Current(µA)</text>
<text class="ab" x="1119" y="1582.7" font-size="86" text-anchor="middle">Potential(v)</text>
<text class="tr" x="1066" y="1656.3" font-size="79.5" text-anchor="middle">(a)</text>
<text class="ar" x="1376" y="162" font-size="72">10<tspan font-size="50" dy="-28.5">-3</tspan><tspan font-size="72" dy="28.5">M</tspan></text>
<text class="ar" x="1434.7" y="482.9" font-size="74.2">10<tspan font-size="51" dy="-30">-4</tspan><tspan font-size="74.2" dy="30">M</tspan></text>
<line x1="1488.5" y1="389.5" x2="1488.5" y2="225" stroke="#000" stroke-width="9"/>
<polygon points="1488.5,163 1506,231 1471,231" fill="#000"/>
<g stroke="#2f2a57" fill="none">
<line x1="375.1" y1="2969.4" x2="375.1" y2="2979.2" stroke-width="5.6"/>
<line x1="632.4" y1="2775.6" x2="632.4" y2="2804.1" stroke-width="5.6"/>
<line x1="890.0" y1="2603.3" x2="890.0" y2="2648.3" stroke-width="5.6"/>
<line x1="1147.2" y1="2345.6" x2="1147.2" y2="2415.6" stroke-width="5.6"/>
<line x1="1404.4" y1="2151.6" x2="1404.4" y2="2240.2" stroke-width="5.6"/>
<line x1="1661.9" y1="1872.3" x2="1661.9" y2="1987.2" stroke-width="5.6"/>
<line x1="1918.8" y1="1721.5" x2="1918.8" y2="1851.8" stroke-width="5.6"/>
</g>
<circle cx="374.5" cy="2974.2" r="32" fill="#2f2a57"/>
<circle cx="365.3" cy="2964.0" r="15.7" fill="url(#hl)"/>
<circle cx="631.8" cy="2789.1" r="32" fill="#2f2a57"/>
<circle cx="622.6" cy="2778.9" r="15.7" fill="url(#hl)"/>
<circle cx="889.4" cy="2626.2" r="32" fill="#2f2a57"/>
<circle cx="880.2" cy="2616.0" r="15.7" fill="url(#hl)"/>
<circle cx="1146.6" cy="2380.3" r="32" fill="#2f2a57"/>
<circle cx="1137.4" cy="2370.1" r="15.7" fill="url(#hl)"/>
<circle cx="1403.8" cy="2196.1" r="32" fill="#2f2a57"/>
<circle cx="1394.6" cy="2185.9" r="15.7" fill="url(#hl)"/>
<circle cx="1661.3" cy="1928.9" r="32" fill="#2f2a57"/>
<circle cx="1652.1" cy="1918.7" r="15.7" fill="url(#hl)"/>
<circle cx="1918.2" cy="1786.6" r="32" fill="#2f2a57"/>
<circle cx="1909.0" cy="1776.4" r="15.7" fill="url(#hl)"/>
<g stroke="#2f2a57" fill="none">
<line x1="345.5" y1="2969.4" x2="404.0" y2="2969.4" stroke-width="4.8" stroke-linecap="round"/>
<line x1="345.5" y1="2979.2" x2="404.0" y2="2979.2" stroke-width="4.8" stroke-linecap="round"/>
<line x1="374.9" y1="2944.2" x2="374.9" y2="2969.4" stroke-width="5"/>
<line x1="602.8" y1="2775.6" x2="661.3" y2="2775.6" stroke-width="4.8" stroke-linecap="round"/>
<line x1="602.8" y1="2804.1" x2="661.3" y2="2804.1" stroke-width="4.8" stroke-linecap="round"/>
<line x1="632.2" y1="2759.1" x2="632.2" y2="2775.6" stroke-width="5"/>
<line x1="860.4" y1="2603.3" x2="918.9" y2="2603.3" stroke-width="4.8" stroke-linecap="round"/>
<line x1="860.4" y1="2648.3" x2="918.9" y2="2648.3" stroke-width="4.8" stroke-linecap="round"/>
<line x1="1117.6" y1="2345.6" x2="1176.1" y2="2345.6" stroke-width="4.8" stroke-linecap="round"/>
<line x1="1117.6" y1="2415.6" x2="1176.1" y2="2415.6" stroke-width="4.8" stroke-linecap="round"/>
<line x1="1374.8" y1="2151.6" x2="1433.3" y2="2151.6" stroke-width="4.8" stroke-linecap="round"/>
<line x1="1374.8" y1="2240.2" x2="1433.3" y2="2240.2" stroke-width="4.8" stroke-linecap="round"/>
<line x1="1632.3" y1="1872.3" x2="1690.8" y2="1872.3" stroke-width="4.8" stroke-linecap="round"/>
<line x1="1632.3" y1="1987.2" x2="1690.8" y2="1987.2" stroke-width="4.8" stroke-linecap="round"/>
<line x1="1889.2" y1="1721.5" x2="1947.7" y2="1721.5" stroke-width="4.8" stroke-linecap="round"/>
<line x1="1889.2" y1="1851.8" x2="1947.7" y2="1851.8" stroke-width="4.8" stroke-linecap="round"/>
</g>
<line x1="372.4" y1="2995.2" x2="1921.8" y2="1768.2" stroke="#fa0505" stroke-width="6.4"/>
<g stroke="#000" fill="none">
<rect x="334" y="1694.7" width="1661" height="1337" stroke-width="9.4"/>
<g stroke-width="10">
<line x1="307.5" y1="2872.0" x2="330" y2="2872.0"/>
<line x1="307.5" y1="2667.2" x2="330" y2="2667.2"/>
<line x1="307.5" y1="2462.4" x2="330" y2="2462.4"/>
<line x1="307.5" y1="2257.6" x2="330" y2="2257.6"/>
<line x1="307.5" y1="2052.8" x2="330" y2="2052.8"/>
<line x1="307.5" y1="1848.0" x2="330" y2="1848.0"/>
<line x1="321" y1="2974.4" x2="330" y2="2974.4"/>
<line x1="321" y1="2769.6" x2="330" y2="2769.6"/>
<line x1="321" y1="2564.8" x2="330" y2="2564.8"/>
<line x1="321" y1="2360.0" x2="330" y2="2360.0"/>
<line x1="321" y1="2155.2" x2="330" y2="2155.2"/>
<line x1="321" y1="1950.4" x2="330" y2="1950.4"/>
<line x1="321" y1="1745.6" x2="330" y2="1745.6"/>
<line x1="374.5" y1="3034" x2="374.5" y2="3057.2"/>
<line x1="631.8" y1="3034" x2="631.8" y2="3057.2"/>
<line x1="889.2" y1="3034" x2="889.2" y2="3057.2"/>
<line x1="1146.5" y1="3034" x2="1146.5" y2="3057.2"/>
<line x1="1403.8" y1="3034" x2="1403.8" y2="3057.2"/>
<line x1="1661.2" y1="3034" x2="1661.2" y2="3057.2"/>
<line x1="1918.5" y1="3034" x2="1918.5" y2="3057.2"/>
<line x1="503.2" y1="3034" x2="503.2" y2="3044.5"/>
<line x1="760.5" y1="3034" x2="760.5" y2="3044.5"/>
<line x1="1017.8" y1="3034" x2="1017.8" y2="3044.5"/>
<line x1="1275.2" y1="3034" x2="1275.2" y2="3044.5"/>
<line x1="1532.5" y1="3034" x2="1532.5" y2="3044.5"/>
<line x1="1789.8" y1="3034" x2="1789.8" y2="3044.5"/>
</g></g>
<text class="ab" x="291" y="2894.4" font-size="76" text-anchor="end">0.01</text>
<text class="ab" x="291" y="2689.6" font-size="76" text-anchor="end">0.02</text>
<text class="ab" x="291" y="2484.8" font-size="76" text-anchor="end">0.03</text>
<text class="ab" x="291" y="2280.0" font-size="76" text-anchor="end">0.04</text>
<text class="ab" x="291" y="2075.2" font-size="76" text-anchor="end">0.05</text>
<text class="ab" x="291" y="1870.4" font-size="76" text-anchor="end">0.06</text>
<text class="ab" x="375.8" y="3135.8" font-size="76" text-anchor="middle">1</text>
<text class="ab" x="633.1" y="3135.8" font-size="76" text-anchor="middle">2</text>
<text class="ab" x="890.5" y="3135.8" font-size="76" text-anchor="middle">3</text>
<text class="ab" x="1147.8" y="3135.8" font-size="76" text-anchor="middle">4</text>
<text class="ab" x="1405.1" y="3135.8" font-size="76" text-anchor="middle">5</text>
<text class="ab" x="1662.5" y="3135.8" font-size="76" text-anchor="middle">6</text>
<text class="ab" x="1919.8" y="3135.8" font-size="76" text-anchor="middle">7</text>
<text class="tb" transform="translate(107 2494) rotate(-90)" font-size="97.5">Ip<tspan font-size="82.5">a/µA</tspan></text>
<text class="tb" x="974.7" y="3282" font-size="83.7">[CA]x10<tspan font-size="55" dy="-33.5">-3</tspan><tspan font-size="83.7" dy="33.5">M</tspan></text>
<text class="tr" x="1171" y="3376" font-size="79.5" text-anchor="middle">(b)</text>
</svg></body></html>
